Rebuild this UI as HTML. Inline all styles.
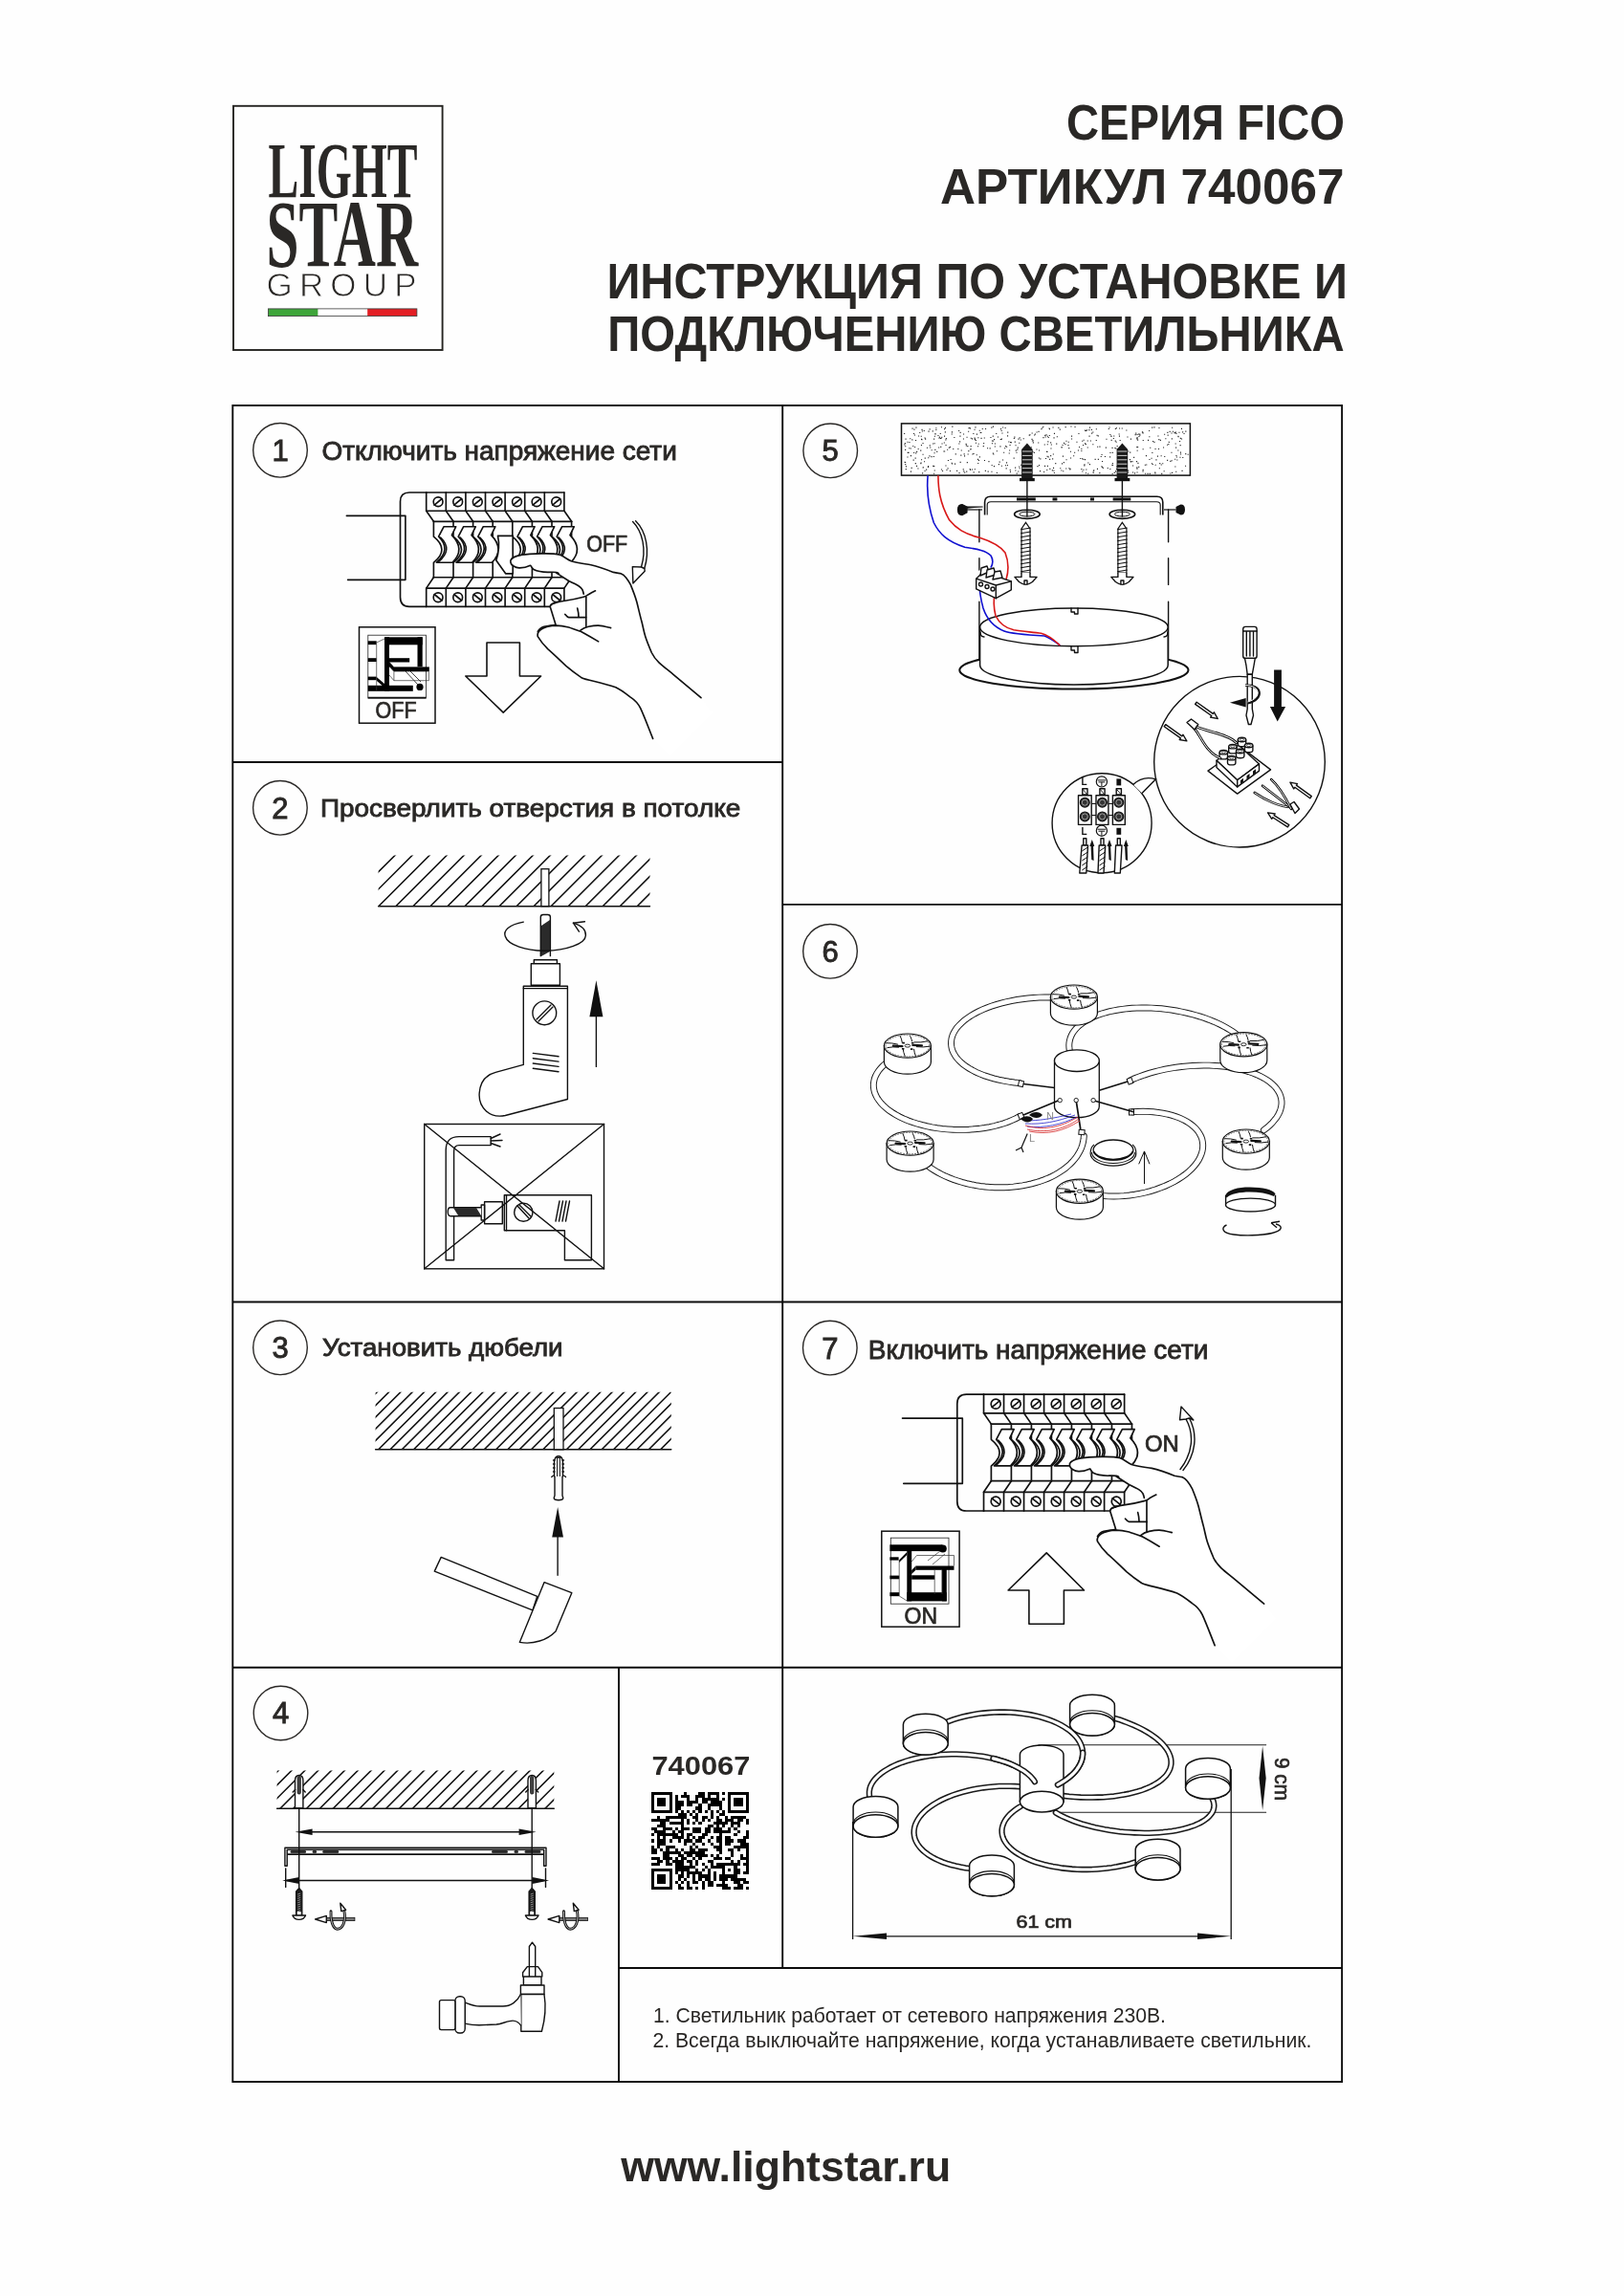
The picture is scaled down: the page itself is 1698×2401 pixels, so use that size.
<!DOCTYPE html>
<html><head><meta charset="utf-8">
<style>
html,body{margin:0;padding:0;background:#fff;}
body{width:1698px;height:2401px;overflow:hidden;position:relative;}
svg{position:absolute;left:0;top:0;will-change:transform;}
text{font-family:"Liberation Sans",sans-serif;}
.t{fill:#2a2826;}
.b{font-weight:bold;}
.ln{stroke:#0c0c0c;stroke-width:1.9;fill:none;}
.d{stroke:#111;stroke-width:1.4;fill:none;stroke-linejoin:round;stroke-linecap:round;}
.dw{stroke:#111;stroke-width:1.4;fill:#fff;stroke-linejoin:round;}
.f{fill:#111;stroke:none;}
.bk .d,.bk .dw{stroke-width:1.65;}
</style></head>
<body>
<svg width="1698" height="2401" viewBox="0 0 1698 2401">
<rect x="0" y="0" width="1698" height="2401" fill="#fefefe"/>

<!-- LOGO -->
<g id="logo">
<rect x="244" y="110.8" width="218.6" height="255.2" fill="none" stroke="#262522" stroke-width="1.9"/>
<text x="280.5" y="205.6" class="t" font-family="Liberation Serif" font-weight="bold" font-size="83" textLength="156" lengthAdjust="spacingAndGlyphs" style="font-family:'Liberation Serif',serif">LIGHT</text>
<text x="278.6" y="278.3" class="t" font-weight="bold" font-size="100" textLength="158.5" lengthAdjust="spacingAndGlyphs" style="font-family:'Liberation Serif',serif">STAR</text>
<text x="278.5" y="309.6" class="t" font-size="35" textLength="157" lengthAdjust="spacing" stroke="#fefefe" stroke-width="0.9" style="font-family:'Liberation Sans',sans-serif">GROUP</text>
<rect x="280.5" y="322.9" width="52.1" height="7.7" fill="#3ea53a"/>
<rect x="332.6" y="322.9" width="51.6" height="7.7" fill="#ffffff"/>
<rect x="384.2" y="322.9" width="51.7" height="7.7" fill="#e31e24"/>
<rect x="280.5" y="322.9" width="155.4" height="7.7" fill="none" stroke="#3a3a3a" stroke-width="0.8"/>
</g>

<!-- TITLES -->
<text x="1115" y="146.3" class="t b" font-size="51" textLength="291" lengthAdjust="spacingAndGlyphs">СЕРИЯ FICO</text>
<text x="983" y="213.4" class="t b" font-size="51" textLength="422.5" lengthAdjust="spacingAndGlyphs">АРТИКУЛ 740067</text>
<text x="634.4" y="312" class="t b" font-size="51" textLength="774.5" lengthAdjust="spacingAndGlyphs">ИНСТРУКЦИЯ ПО УСТАНОВКЕ И</text>
<text x="635.3" y="366.9" class="t b" font-size="51" textLength="770.5" lengthAdjust="spacingAndGlyphs">ПОДКЛЮЧЕНИЮ СВЕТИЛЬНИКА</text>

<!-- GRID -->
<g class="ln">
<rect x="243.3" y="424" width="1159.8" height="1753"/>
<line x1="818.2" y1="424" x2="818.2" y2="2058"/>
<line x1="647" y1="1743.7" x2="647" y2="2177"/>
<line x1="243.3" y1="797" x2="818.2" y2="797"/>
<line x1="818.2" y1="945.9" x2="1403.1" y2="945.9"/>
<line x1="243.3" y1="1361.5" x2="1403.1" y2="1361.5"/>
<line x1="243.3" y1="1743.7" x2="1403.1" y2="1743.7"/>
<line x1="647" y1="2058" x2="1403.1" y2="2058"/>
</g>

<!-- STEP CIRCLES -->
<g fill="none" stroke="#2a2826" stroke-width="1.4">
<circle cx="293" cy="470.8" r="28.3"/>
<circle cx="292.9" cy="844.8" r="28.3"/>
<circle cx="293" cy="1409.3" r="28.3"/>
<circle cx="293.5" cy="1791.5" r="28.3"/>
<circle cx="868.2" cy="471.3" r="28.3"/>
<circle cx="868" cy="994.8" r="28.3"/>
<circle cx="867.8" cy="1409.6" r="28.3"/>
</g>
<g class="t" font-size="31" text-anchor="middle" stroke="#2a2826" stroke-width="0.9">
<text x="293" y="481.7">1</text>
<text x="292.9" y="855.6">2</text>
<text x="293" y="1420.2">3</text>
<text x="293.5" y="1802.3">4</text>
<text x="868.2" y="482.3">5</text>
<text x="868" y="1005.5">6</text>
<text x="867.8" y="1420.5">7</text>
</g>

<!-- STEP HEADINGS -->
<g class="t" stroke="#2a2826" stroke-width="0.85">
<text x="336.4" y="481.3" font-size="26.8" textLength="371.4" lengthAdjust="spacingAndGlyphs">Отключить напряжение сети</text>
<text x="335" y="854.2" font-size="25.9" textLength="439.2" lengthAdjust="spacingAndGlyphs">Просверлить отверстия в потолке</text>
<text x="337" y="1418.4" font-size="25.9" textLength="251.6" lengthAdjust="spacingAndGlyphs">Установить дюбели</text>
<text x="907.8" y="1420.5" font-size="27.4" textLength="355.6" lengthAdjust="spacingAndGlyphs">Включить напряжение сети</text>
</g>

<!-- NOTES -->
<g class="t" font-size="22">
<text x="682.9" y="2115.4" textLength="536.1" lengthAdjust="spacingAndGlyphs">1. Светильник работает от сетевого напряжения 230В.</text>
<text x="682.4" y="2141" textLength="689" lengthAdjust="spacingAndGlyphs">2. Всегда выключайте напряжение, когда устанавливаете светильник.</text>
</g>

<!-- QR label -->
<text x="681.4" y="1855.9" class="t b" font-size="28" textLength="103" lengthAdjust="spacingAndGlyphs">740067</text>

<!-- FOOTER -->
<text x="649.3" y="2280.5" class="t b" font-size="44" textLength="344.8" lengthAdjust="spacingAndGlyphs">www.lightstar.ru</text>

<g id="brk1" class="bk">
<path class="d" d="M362.4,539.4 H423.9 V606.3 H363.6"/>
<path class="d" d="M445.7,515.0 H428 Q418.5,515.0 418.5,524.5 V624.5 Q418.5,634.4 428,634.4 H445.7"/>
<path class="d" d="M445.7,515.0 H589.9 M445.7,534.2 H589.9"/>
<path class="d" d="M445.7,515.0 V534.2 L453.4,545.3"/>
<path class="d" d="M453.4,603.7 L445.7,615.1 V634.4"/>
<path class="d" d="M466.3,515.0 V534.2 L474.0,545.3"/>
<path class="d" d="M474.0,603.7 L466.3,615.1 V634.4"/>
<path class="d" d="M486.9,515.0 V534.2 L494.6,545.3"/>
<path class="d" d="M494.6,603.7 L486.9,615.1 V634.4"/>
<path class="d" d="M507.5,515.0 V534.2 L515.2,545.3"/>
<path class="d" d="M515.2,603.7 L507.5,615.1 V634.4"/>
<path class="d" d="M528.1,515.0 V534.2 L535.8,545.3"/>
<path class="d" d="M535.8,603.7 L528.1,615.1 V634.4"/>
<path class="d" d="M548.7,515.0 V534.2 L556.4,545.3"/>
<path class="d" d="M556.4,603.7 L548.7,615.1 V634.4"/>
<path class="d" d="M569.3,515.0 V534.2 L577.0,545.3"/>
<path class="d" d="M577.0,603.7 L569.3,615.1 V634.4"/>
<path class="d" d="M589.9,515.0 V534.2 L597.6,545.3"/>
<path class="d" d="M597.6,603.7 L589.9,615.1 V634.4"/>
<path class="d" d="M453.4,545.3 H597.6 M453.4,603.7 H597.6"/>
<path class="d" d="M445.7,615.1 H589.9 M445.7,634.4 H589.9"/>
<circle class="d" cx="458.1" cy="524.8" r="4.9"/>
<path class="d" d="M454.1,528.1 L462.1,521.5"/>
<circle class="d" cx="458.1" cy="624.8" r="4.9"/>
<path class="d" d="M454.1,621.5 L462.1,628.0"/>
<circle class="d" cx="478.7" cy="524.8" r="4.9"/>
<path class="d" d="M474.7,528.1 L482.7,521.5"/>
<circle class="d" cx="478.7" cy="624.8" r="4.9"/>
<path class="d" d="M474.7,621.5 L482.7,628.0"/>
<circle class="d" cx="499.3" cy="524.8" r="4.9"/>
<path class="d" d="M495.3,528.1 L503.3,521.5"/>
<circle class="d" cx="499.3" cy="624.8" r="4.9"/>
<path class="d" d="M495.3,621.5 L503.3,628.0"/>
<circle class="d" cx="519.9" cy="524.8" r="4.9"/>
<path class="d" d="M515.9,528.1 L523.9,521.5"/>
<circle class="d" cx="519.9" cy="624.8" r="4.9"/>
<path class="d" d="M515.9,621.5 L523.9,628.0"/>
<circle class="d" cx="540.5" cy="524.8" r="4.9"/>
<path class="d" d="M536.5,528.1 L544.5,521.5"/>
<circle class="d" cx="540.5" cy="624.8" r="4.9"/>
<path class="d" d="M536.5,621.5 L544.5,628.0"/>
<circle class="d" cx="561.1" cy="524.8" r="4.9"/>
<path class="d" d="M557.1,528.1 L565.1,521.5"/>
<circle class="d" cx="561.1" cy="624.8" r="4.9"/>
<path class="d" d="M557.1,621.5 L565.1,628.0"/>
<circle class="d" cx="581.7" cy="524.8" r="4.9"/>
<path class="d" d="M577.7,528.1 L585.7,521.5"/>
<circle class="d" cx="581.7" cy="624.8" r="4.9"/>
<path class="d" d="M577.7,621.5 L585.7,628.0"/>
<path class="d" d="M453.4,545.3 V561.2 Q470.4,574.8 453.4,588.4 V603.7"/>
<path class="d" d="M474.0,545.3 V561.2 Q491.0,574.8 474.0,588.4 V603.7"/>
<path class="d" d="M494.6,545.3 V561.2 Q511.6,574.8 494.6,588.4 V603.7"/>
<path class="d" d="M515.2,545.3 V603.7"/>
<path class="d" d="M535.8,545.3 V561.2 Q552.8,574.8 535.8,588.4 V603.7"/>
<path class="d" d="M556.4,545.3 V561.2 Q573.4,574.8 556.4,588.4 V603.7"/>
<path class="d" d="M577.0,545.3 V561.2 Q594.0,574.8 577.0,588.4 V603.7"/>
<path class="d" d="M597.6,545.3 V603.7"/>
<path class="dw" d="M464.1,550.7 H476.7 L472.4,559.7 Q486.9,574.5 473.2,588.2 H456.4 Q472.4,574.5 458.6,561.2 Z"/>
<path class="d" d="M460.6,562 Q473.9,574.8 458.4,587.6"/>
<path class="dw" d="M484.7,550.7 H497.3 L493.0,559.7 Q507.5,574.5 493.8,588.2 H477.0 Q493.0,574.5 479.2,561.2 Z"/>
<path class="d" d="M481.2,562 Q494.5,574.8 479.0,587.6"/>
<path class="dw" d="M505.3,550.7 H517.9 L513.6,559.7 Q528.1,574.5 514.4,588.2 H497.6 Q513.6,574.5 499.8,561.2 Z"/>
<path class="d" d="M501.8,562 Q515.1,574.8 499.6,587.6"/>
<path class="dw" d="M520.5,560.4 H536.2 V599.8 H528.6 L518.8,586 Q523.2,573 520.5,560.4 Z"/>
<path class="dw" d="M546.5,550.7 H559.1 L554.8,559.7 Q569.3,574.5 555.6,588.2 H538.8 Q554.8,574.5 541.0,561.2 Z"/>
<path class="d" d="M543.0,562 Q556.3,574.8 540.8,587.6"/>
<path class="dw" d="M567.1,550.7 H579.7 L575.4,559.7 Q589.9,574.5 576.2,588.2 H559.4 Q575.4,574.5 561.6,561.2 Z"/>
<path class="d" d="M563.6,562 Q576.9,574.8 561.4,587.6"/>
<path class="dw" d="M587.7,550.7 H600.3 L596.0,559.7 Q610.5,574.5 596.8,588.2 H580.0 Q596.0,574.5 582.2,561.2 Z"/>
<path class="d" d="M584.2,562 Q597.5,574.8 582.0,587.6"/>
</g>
<g id="hand1" class="bk"><path d="M733,729.7 L704.6,705.8 C699,701 694,697.5 689,692.8 C686,690 683.5,687 681.3,682.5 C679,677 676.5,671 674.8,665.7 C673,660 672.5,656 671,650.2 C669,643 667.5,636 665.8,629.5 C664,623 662,618 659.3,611.4 C657.5,608 656,606 654.1,603.6 C653,602 652,601 649,599.7 C647,599.2 645,599.5 641.2,598.4 C634,595.5 626,592.5 617.9,590.7 C611,589.5 604,589 597.2,586.8 C593,585 590,582 585.6,580.3 C579,578.6 573,578.8 567,578.9 C560,579.1 552,579.3 545.5,580.3 C540,581.5 535,582.5 533.9,586 L533.9,588.1 C534,591 539,593.5 542.9,593.9 C547,594 551,593 554.6,591.3 C555.5,592 556,594 558,595.5 C562,597.5 566,598.2 572.7,598.4 C575,598.4 582,597.6 584,599.5 L600,612 L610.2,624.3 L581,630.3 L575.3,634.7 L581.1,653.4 C575,654.5 569.5,655.7 566,658 C563,660 561.5,662.5 562.3,665.7 C564.5,669.5 568,674 572.7,678.6 C579,684 585,690 592.1,696.7 C596,700 601,704 607.6,708.4 C611,710 615,711 620.5,712.2 C628,714 636,716 643.8,718.7 C649,721 654,725 659.3,729.1 C663,731.5 667,735 669.7,740.7 C674,750 678,761 682.6,772.4 L700,790 L745,745 Z" fill="#fff" stroke="none"/>
<path class="d" d="M733,729.7 L704.6,705.8 C699,701 694,697.5 689,692.8 C686,690 683.5,687 681.3,682.5 C679,677 676.5,671 674.8,665.7 C673,660 672.5,656 671,650.2 C669,643 667.5,636 665.8,629.5 C664,623 662,618 659.3,611.4 C657.5,608 656,606 654.1,603.6 C653,602 652,601 649,599.7 C647,599.2 645,599.5 641.2,598.4 C634,595.5 626,592.5 617.9,590.7 C611,589.5 604,589 597.2,586.8 C593,585 590,582 585.6,580.3 C579,578.6 573,578.8 567,578.9 C560,579.1 552,579.3 545.5,580.3 C540,581.5 535,582.5 533.9,586 L533.9,588.1 C534,591 539,593.5 542.9,593.9 C547,594 551,593 554.6,591.3 C555.5,592 556,594 558,595.5 C562,597.5 566,598.2 572.7,598.4 C575,598.4 582,597.6 584,599.5"/>
<path class="d" d="M682.6,772.4 C678,761 674,750 669.7,740.7 C667,735 663,731.5 659.3,729.1 C654,725 649,721 643.8,718.7 C636,716 628,714 620.5,712.2 C615,711 611,710 607.6,708.4 C601,704 596,700 592.1,696.7 C585,690 579,684 572.7,678.6 C568,674 564.5,669.5 562.3,665.7 C561.5,662.5 563,660 566,658 C569.5,655.7 575,654.5 581.1,653.4 L575.3,634.7 C575,632 577,631 581,630.3"/>
<path class="d" d="M581.7,599.1 L594.7,607.5 C600,610 603,611.5 605,612.7 C607,614 608,615 608.9,616.6 C609.5,618 610,619.5 610.2,621.1"/>
<path class="d" d="M576.6,632.1 C580,630 585,629 590.8,628.2 C597,627.3 604,626 610.2,624.3 C613,623.5 614,622.8 615.3,621.7 C618,620 620,619 622.5,617.8"/>
<path class="d" d="M612.8,624.3 V655.3"/>
<path class="d" d="M590.8,642.4 C592,644 593,645.6 594.7,645.6 H612.8"/>
<path class="d" d="M603.7,636 C604.5,639 605,642 605,645"/>
<path class="d" d="M606.9,659.2 C609,657.5 612,656 615.3,655.3 C619,654.5 622,654 625.7,654.1 C630,654.3 634,655.5 638.6,656.6"/>
<path class="d" d="M562.3,660.5 C564,657.5 566,656 568.8,655.3 C573,654.3 577,654.1 581.7,654.1 C586,654.3 590,655 594.7,656 C599,657.5 603,659 607.6,660.5 C614,664 620,667.5 625.7,670.9"/>
</g>
<text x="613.2" y="577" class="t" stroke="#2a2826" stroke-width="0.7" font-size="23" textLength="43" lengthAdjust="spacingAndGlyphs">OFF</text>
<path class="d" d="M661.6,545.6 C672,556 676,575 670.5,593 M664.6,544.8 C676,556 679.5,576 673.8,594.5"/>
<path class="dw" d="M661.3,592.6 L670.5,593 L673.8,594.5 L674.2,597.2 L661.9,610.1 Z"/>
<path class="d" style="stroke-width:1.6" d="M509,672 H543.4 V707 H565.6 L526.2,745.1 L486.8,707 H509 Z"/>
<rect x="375.5" y="655.8" width="79.5" height="100.4" fill="none" stroke="#111" stroke-width="1.5"/>
<rect x="384.8" y="664.2" width="60.6" height="65.8" fill="none" stroke="#222" stroke-width="0.8"/>
<path d="M384.8,729.6 H445.4" stroke="#111" stroke-width="1.6"/>
<rect x="384.8" y="670.3" width="8.9" height="3.8" fill="#000"/>
<rect x="384.8" y="688.2" width="8.9" height="3.8" fill="#000"/>
<rect x="384.8" y="707.6" width="8.9" height="3.6" fill="#000"/>
<rect x="384.8" y="716.8" width="47.0" height="6.0" fill="#000"/>
<rect x="402.0" y="666.3" width="5.0" height="56.4" fill="#000"/>
<rect x="402.0" y="666.3" width="39.7" height="8.0" fill="#000"/>
<rect x="436.5" y="666.3" width="5.2" height="31.0" fill="#000"/>
<rect x="407.0" y="688.2" width="21.2" height="4.3" fill="#000"/>
<rect x="411.9" y="697.4" width="36.9" height="4.9" fill="#000"/>
<path d="M407,692 L412,697.4 L412,702.3 L407,697 Z" fill="#000"/>
<path d="M393.7,708 L402,715 L402,719 L394,712 Z" fill="#000"/>
<circle cx="439" cy="718.4" r="3.6" fill="#000"/>
<path d="M424,702 L437,716 M428,701 L440,713" stroke="#111" stroke-width="0.8" fill="none"/>
<path d="M411.9,702.3 V711.7 H448.4 V702.3 M407,697 L411.9,702.3 M407,706 L411.9,711.7 M393.7,674 V722 M393.7,672 L402,668" stroke="#333" stroke-width="0.7" fill="none"/>
<text x="392.6" y="751.3" class="t" stroke="#2a2826" stroke-width="0.7" font-size="23" textLength="43" lengthAdjust="spacingAndGlyphs">OFF</text>
<g transform="translate(573.92,932.9) scale(1.02)" class="bk">
<path class="d" d="M362.4,539.4 H423.9 V606.3 H363.6"/>
<path class="d" d="M445.7,515.0 H428 Q418.5,515.0 418.5,524.5 V624.5 Q418.5,634.4 428,634.4 H445.7"/>
<path class="d" d="M445.7,515.0 H589.9 M445.7,534.2 H589.9"/>
<path class="d" d="M445.7,515.0 V534.2 L453.4,545.3"/>
<path class="d" d="M453.4,603.7 L445.7,615.1 V634.4"/>
<path class="d" d="M466.3,515.0 V534.2 L474.0,545.3"/>
<path class="d" d="M474.0,603.7 L466.3,615.1 V634.4"/>
<path class="d" d="M486.9,515.0 V534.2 L494.6,545.3"/>
<path class="d" d="M494.6,603.7 L486.9,615.1 V634.4"/>
<path class="d" d="M507.5,515.0 V534.2 L515.2,545.3"/>
<path class="d" d="M515.2,603.7 L507.5,615.1 V634.4"/>
<path class="d" d="M528.1,515.0 V534.2 L535.8,545.3"/>
<path class="d" d="M535.8,603.7 L528.1,615.1 V634.4"/>
<path class="d" d="M548.7,515.0 V534.2 L556.4,545.3"/>
<path class="d" d="M556.4,603.7 L548.7,615.1 V634.4"/>
<path class="d" d="M569.3,515.0 V534.2 L577.0,545.3"/>
<path class="d" d="M577.0,603.7 L569.3,615.1 V634.4"/>
<path class="d" d="M589.9,515.0 V534.2 L597.6,545.3"/>
<path class="d" d="M597.6,603.7 L589.9,615.1 V634.4"/>
<path class="d" d="M453.4,545.3 H597.6 M453.4,603.7 H597.6"/>
<path class="d" d="M445.7,615.1 H589.9 M445.7,634.4 H589.9"/>
<circle class="d" cx="458.1" cy="524.8" r="4.9"/>
<path class="d" d="M454.1,528.1 L462.1,521.5"/>
<circle class="d" cx="458.1" cy="624.8" r="4.9"/>
<path class="d" d="M454.1,621.5 L462.1,628.0"/>
<circle class="d" cx="478.7" cy="524.8" r="4.9"/>
<path class="d" d="M474.7,528.1 L482.7,521.5"/>
<circle class="d" cx="478.7" cy="624.8" r="4.9"/>
<path class="d" d="M474.7,621.5 L482.7,628.0"/>
<circle class="d" cx="499.3" cy="524.8" r="4.9"/>
<path class="d" d="M495.3,528.1 L503.3,521.5"/>
<circle class="d" cx="499.3" cy="624.8" r="4.9"/>
<path class="d" d="M495.3,621.5 L503.3,628.0"/>
<circle class="d" cx="519.9" cy="524.8" r="4.9"/>
<path class="d" d="M515.9,528.1 L523.9,521.5"/>
<circle class="d" cx="519.9" cy="624.8" r="4.9"/>
<path class="d" d="M515.9,621.5 L523.9,628.0"/>
<circle class="d" cx="540.5" cy="524.8" r="4.9"/>
<path class="d" d="M536.5,528.1 L544.5,521.5"/>
<circle class="d" cx="540.5" cy="624.8" r="4.9"/>
<path class="d" d="M536.5,621.5 L544.5,628.0"/>
<circle class="d" cx="561.1" cy="524.8" r="4.9"/>
<path class="d" d="M557.1,528.1 L565.1,521.5"/>
<circle class="d" cx="561.1" cy="624.8" r="4.9"/>
<path class="d" d="M557.1,621.5 L565.1,628.0"/>
<circle class="d" cx="581.7" cy="524.8" r="4.9"/>
<path class="d" d="M577.7,528.1 L585.7,521.5"/>
<circle class="d" cx="581.7" cy="624.8" r="4.9"/>
<path class="d" d="M577.7,621.5 L585.7,628.0"/>
<path class="d" d="M453.4,545.3 V561.2 Q470.4,574.8 453.4,588.4 V603.7"/>
<path class="d" d="M474.0,545.3 V561.2 Q491.0,574.8 474.0,588.4 V603.7"/>
<path class="d" d="M494.6,545.3 V561.2 Q511.6,574.8 494.6,588.4 V603.7"/>
<path class="d" d="M515.2,545.3 V561.2 Q532.2,574.8 515.2,588.4 V603.7"/>
<path class="d" d="M535.8,545.3 V561.2 Q552.8,574.8 535.8,588.4 V603.7"/>
<path class="d" d="M556.4,545.3 V561.2 Q573.4,574.8 556.4,588.4 V603.7"/>
<path class="d" d="M577.0,545.3 V561.2 Q594.0,574.8 577.0,588.4 V603.7"/>
<path class="d" d="M597.6,545.3 V603.7"/>
<path class="dw" d="M464.1,550.7 H476.7 L472.4,559.7 Q486.9,574.5 473.2,588.2 H456.4 Q472.4,574.5 458.6,561.2 Z"/>
<path class="d" d="M460.6,562 Q473.9,574.8 458.4,587.6"/>
<path class="dw" d="M484.7,550.7 H497.3 L493.0,559.7 Q507.5,574.5 493.8,588.2 H477.0 Q493.0,574.5 479.2,561.2 Z"/>
<path class="d" d="M481.2,562 Q494.5,574.8 479.0,587.6"/>
<path class="dw" d="M505.3,550.7 H517.9 L513.6,559.7 Q528.1,574.5 514.4,588.2 H497.6 Q513.6,574.5 499.8,561.2 Z"/>
<path class="d" d="M501.8,562 Q515.1,574.8 499.6,587.6"/>
<path class="dw" d="M525.9,550.7 H538.5 L534.2,559.7 Q548.7,574.5 535.0,588.2 H518.2 Q534.2,574.5 520.4,561.2 Z"/>
<path class="d" d="M522.4,562 Q535.7,574.8 520.2,587.6"/>
<path class="dw" d="M546.5,550.7 H559.1 L554.8,559.7 Q569.3,574.5 555.6,588.2 H538.8 Q554.8,574.5 541.0,561.2 Z"/>
<path class="d" d="M543.0,562 Q556.3,574.8 540.8,587.6"/>
<path class="dw" d="M567.1,550.7 H579.7 L575.4,559.7 Q589.9,574.5 576.2,588.2 H559.4 Q575.4,574.5 561.6,561.2 Z"/>
<path class="d" d="M563.6,562 Q576.9,574.8 561.4,587.6"/>
<path class="dw" d="M587.7,550.7 H600.3 L596.0,559.7 Q610.5,574.5 596.8,588.2 H580.0 Q596.0,574.5 582.2,561.2 Z"/>
<path class="d" d="M584.2,562 Q597.5,574.8 582.0,587.6"/>
<path d="M733,729.7 L704.6,705.8 C699,701 694,697.5 689,692.8 C686,690 683.5,687 681.3,682.5 C679,677 676.5,671 674.8,665.7 C673,660 672.5,656 671,650.2 C669,643 667.5,636 665.8,629.5 C664,623 662,618 659.3,611.4 C657.5,608 656,606 654.1,603.6 C653,602 652,601 649,599.7 C647,599.2 645,599.5 641.2,598.4 C634,595.5 626,592.5 617.9,590.7 C611,589.5 604,589 597.2,586.8 C593,585 590,582 585.6,580.3 C579,578.6 573,578.8 567,578.9 C560,579.1 552,579.3 545.5,580.3 C540,581.5 535,582.5 533.9,586 L533.9,588.1 C534,591 539,593.5 542.9,593.9 C547,594 551,593 554.6,591.3 C555.5,592 556,594 558,595.5 C562,597.5 566,598.2 572.7,598.4 C575,598.4 582,597.6 584,599.5 L600,612 L610.2,624.3 L581,630.3 L575.3,634.7 L581.1,653.4 C575,654.5 569.5,655.7 566,658 C563,660 561.5,662.5 562.3,665.7 C564.5,669.5 568,674 572.7,678.6 C579,684 585,690 592.1,696.7 C596,700 601,704 607.6,708.4 C611,710 615,711 620.5,712.2 C628,714 636,716 643.8,718.7 C649,721 654,725 659.3,729.1 C663,731.5 667,735 669.7,740.7 C674,750 678,761 682.6,772.4 L700,790 L745,745 Z" fill="#fff" stroke="none"/>
<path class="d" d="M733,729.7 L704.6,705.8 C699,701 694,697.5 689,692.8 C686,690 683.5,687 681.3,682.5 C679,677 676.5,671 674.8,665.7 C673,660 672.5,656 671,650.2 C669,643 667.5,636 665.8,629.5 C664,623 662,618 659.3,611.4 C657.5,608 656,606 654.1,603.6 C653,602 652,601 649,599.7 C647,599.2 645,599.5 641.2,598.4 C634,595.5 626,592.5 617.9,590.7 C611,589.5 604,589 597.2,586.8 C593,585 590,582 585.6,580.3 C579,578.6 573,578.8 567,578.9 C560,579.1 552,579.3 545.5,580.3 C540,581.5 535,582.5 533.9,586 L533.9,588.1 C534,591 539,593.5 542.9,593.9 C547,594 551,593 554.6,591.3 C555.5,592 556,594 558,595.5 C562,597.5 566,598.2 572.7,598.4 C575,598.4 582,597.6 584,599.5"/>
<path class="d" d="M682.6,772.4 C678,761 674,750 669.7,740.7 C667,735 663,731.5 659.3,729.1 C654,725 649,721 643.8,718.7 C636,716 628,714 620.5,712.2 C615,711 611,710 607.6,708.4 C601,704 596,700 592.1,696.7 C585,690 579,684 572.7,678.6 C568,674 564.5,669.5 562.3,665.7 C561.5,662.5 563,660 566,658 C569.5,655.7 575,654.5 581.1,653.4 L575.3,634.7 C575,632 577,631 581,630.3"/>
<path class="d" d="M581.7,599.1 L594.7,607.5 C600,610 603,611.5 605,612.7 C607,614 608,615 608.9,616.6 C609.5,618 610,619.5 610.2,621.1"/>
<path class="d" d="M576.6,632.1 C580,630 585,629 590.8,628.2 C597,627.3 604,626 610.2,624.3 C613,623.5 614,622.8 615.3,621.7 C618,620 620,619 622.5,617.8"/>
<path class="d" d="M612.8,624.3 V655.3"/>
<path class="d" d="M590.8,642.4 C592,644 593,645.6 594.7,645.6 H612.8"/>
<path class="d" d="M603.7,636 C604.5,639 605,642 605,645"/>
<path class="d" d="M606.9,659.2 C609,657.5 612,656 615.3,655.3 C619,654.5 622,654 625.7,654.1 C630,654.3 634,655.5 638.6,656.6"/>
<path class="d" d="M562.3,660.5 C564,657.5 566,656 568.8,655.3 C573,654.3 577,654.1 581.7,654.1 C586,654.3 590,655 594.7,656 C599,657.5 603,659 607.6,660.5 C614,664 620,667.5 625.7,670.9"/>

</g>
<text x="1197" y="1517.6" class="t" stroke="#2a2826" stroke-width="0.7" font-size="23" textLength="35.8" lengthAdjust="spacingAndGlyphs">ON</text>
<path class="d" d="M1234,1536.5 C1247,1520 1249,1500 1240,1484 M1237,1537.5 C1250.5,1521 1252.5,1500 1243.5,1483"/>
<path class="dw" d="M1233.5,1484.8 L1240,1484 L1243.5,1483 L1247.9,1485 L1235,1470.9 Z"/>
<path class="d" style="stroke-width:1.6" d="M1094.2,1623.9 L1133.5,1663 H1112.4 V1698.2 H1075.9 V1663 H1054.1 Z"/>
<rect x="921.8" y="1601.2" width="81.3" height="100" fill="none" stroke="#111" stroke-width="1.5"/>
<rect x="931.3" y="1608.2" width="60.7" height="69" fill="none" stroke="#222" stroke-width="0.8"/>
<rect x="930.4" y="1615.3" width="55.0" height="6.8" fill="#000"/>
<rect x="948.3" y="1619.6" width="4.9" height="54.8" fill="#000"/>
<rect x="948.3" y="1665.2" width="41.5" height="9.2" fill="#000"/>
<rect x="984.9" y="1638.1" width="4.9" height="36.3" fill="#000"/>
<rect x="957.5" y="1637.5" width="40.0" height="4.3" fill="#000"/>
<rect x="953.2" y="1647.3" width="24.0" height="4.4" fill="#000"/>
<rect x="930.4" y="1628.3" width="9.2" height="3.3" fill="#000"/>
<rect x="930.4" y="1647.6" width="9.8" height="3.7" fill="#000"/>
<rect x="930.4" y="1665.2" width="9.8" height="4.0" fill="#000"/>
<circle cx="985.8" cy="1619.6" r="4" fill="#000"/>
<path d="M953.2,1642 L957.5,1637.5 L957.5,1641.8 L953.2,1646 Z" fill="#000"/>
<path d="M940,1631.6 L948.3,1623 L948.3,1626 L940,1634 Z" fill="#000"/>
<path d="M970,1632 L983,1622 M975,1636 L988,1625 M953.2,1633 L958.5,1626.5 H997.5 V1637.5 M940.2,1631 V1669 M940.2,1669 L948.3,1674 M977.2,1641.8 V1667 M984.9,1641.8 V1667" stroke="#333" stroke-width="0.7" fill="none"/>
<text x="945.5" y="1698.1" class="t" stroke="#2a2826" stroke-width="0.7" font-size="23" textLength="34.5" lengthAdjust="spacingAndGlyphs">ON</text>
<clipPath id="c2"><rect x="395.6" y="894.4" width="283.9" height="53.3"/></clipPath>
<path clip-path="url(#c2)" d="M357.76,949.70 L415.06,892.40 M375.79,949.70 L433.09,892.40 M393.82,949.70 L451.12,892.40 M411.85,949.70 L469.15,892.40 M429.88,949.70 L487.18,892.40 M447.91,949.70 L505.21,892.40 M465.94,949.70 L523.24,892.40 M483.97,949.70 L541.27,892.40 M502.00,949.70 L559.30,892.40 M520.03,949.70 L577.33,892.40 M538.06,949.70 L595.36,892.40 M556.09,949.70 L613.39,892.40 M574.12,949.70 L631.42,892.40 M592.15,949.70 L649.45,892.40 M610.18,949.70 L667.48,892.40 M628.21,949.70 L685.51,892.40 M646.24,949.70 L703.54,892.40 M664.27,949.70 L721.57,892.40" stroke="#111" stroke-width="1.55" fill="none"/>
<path class="d" d="M395.6,947.7 H679.5"/>
<rect x="565.9" y="908.7" width="8" height="39" fill="#fff" stroke="#111" stroke-width="1.3"/>
<path class="dw" d="M565.3,1000.2 V959 Q565.3,956.5 568,956.5 H572.7 Q575.4,956.5 575.4,959 V1000.2"/>
<path d="M566,968 L575,962 V995 L566,1000 Z" fill="#2a2a2a"/>
<path class="d" d="M547.3,964.1 C532,967 526,973 528.3,979.2 C531,988 550,994.5 570.3,994.2 C592,994 612,987 612.4,978.2 C612.6,972 607,967.5 599.4,965.2"/>
<path class="d" d="M599.4,965.2 L611.4,963.8 M599.4,965.2 L605.4,974.2"/>
<rect class="dw" x="558.3" y="1003.8" width="24.1" height="4"/>
<rect class="dw" x="555.3" y="1007.8" width="30.1" height="22.5"/>
<path class="dw" d="M547.3,1031.3 H593.4 V1149.5 L528.3,1166.5 C512,1170 500,1158 501.2,1143 C502,1132 508,1124 518.2,1121.4 L547.3,1113.4 Z"/>
<path class="d" d="M547.3,1033.6 H593.4"/>
<circle class="d" cx="569.3" cy="1059.3" r="12.4"/>
<path class="d" d="M561,1066 L576,1051 M563,1068 L578,1053"/>
<path class="d" d="M557.3,1101.4 L584,1104.8"/>
<path class="d" d="M557.3,1106.7 L584,1110.1"/>
<path class="d" d="M557.3,1112.0 L584,1115.4"/>
<path class="d" d="M557.3,1117.3 L584,1120.7"/>
<path class="d" d="M623.4,1115.4 V1060"/>
<path class="f" d="M623.4,1025.3 L630.4,1063.3 H616.4 Z"/>
<rect x="443.7" y="1175.5" width="187.8" height="151.3" fill="none" stroke="#111" stroke-width="1.4"/>
<path class="d" d="M443.7,1175.5 L631.5,1326.8 M631.5,1175.5 L443.7,1326.8"/>
<path class="d" d="M466.2,1317.8 V1202.6 Q466.2,1188.6 480,1188.6 H513.2 V1197.6 H480 Q474.6,1197.6 474.6,1204 V1317.8 Z"/>
<path class="d" d="M513.2,1190.5 L523,1186 M513.2,1193 L525,1192.5 M513.2,1195.5 L523,1199"/>
<path class="d" d="M527.3,1249.7 H618.4 V1317.8 H590.4 V1286.7 H527.3 Z"/>
<path class="d" d="M529.5,1249.7 V1286.7"/>
<rect class="d" x="506.6" y="1256.7" width="18.7" height="23"/>
<rect class="d" x="503.2" y="1260" width="3.4" height="16"/>
<path class="dw" d="M503.2,1262.7 H471 Q468.2,1262.7 468.2,1267.2 Q468.2,1271.7 471,1271.7 H503.2"/>
<path d="M474,1263 H498 L503,1271 H479 Z" fill="#2a2a2a"/>
<circle class="d" cx="547.3" cy="1267.7" r="9.6"/>
<path class="d" d="M541,1261 L553,1274 M543,1260 L555,1272"/>
<path class="d" d="M585.0,1256 L581.0,1277"/>
<path class="d" d="M588.5,1256 L584.5,1277"/>
<path class="d" d="M592.0,1256 L588.0,1277"/>
<path class="d" d="M595.5,1256 L591.5,1277"/>
<clipPath id="c3"><rect x="392.6" y="1455.7" width="309.2" height="60.1"/></clipPath>
<path clip-path="url(#c3)" d="M332.21,1517.80 L396.31,1453.70 M344.50,1517.80 L408.60,1453.70 M356.79,1517.80 L420.89,1453.70 M369.08,1517.80 L433.18,1453.70 M381.37,1517.80 L445.47,1453.70 M393.66,1517.80 L457.76,1453.70 M405.95,1517.80 L470.05,1453.70 M418.24,1517.80 L482.34,1453.70 M430.53,1517.80 L494.63,1453.70 M442.82,1517.80 L506.92,1453.70 M455.11,1517.80 L519.21,1453.70 M467.40,1517.80 L531.50,1453.70 M479.69,1517.80 L543.79,1453.70 M491.98,1517.80 L556.08,1453.70 M504.27,1517.80 L568.37,1453.70 M516.56,1517.80 L580.66,1453.70 M528.85,1517.80 L592.95,1453.70 M541.14,1517.80 L605.24,1453.70 M553.43,1517.80 L617.53,1453.70 M565.72,1517.80 L629.82,1453.70 M578.01,1517.80 L642.11,1453.70 M590.30,1517.80 L654.40,1453.70 M602.59,1517.80 L666.69,1453.70 M614.88,1517.80 L678.98,1453.70 M627.17,1517.80 L691.27,1453.70 M639.46,1517.80 L703.56,1453.70 M651.75,1517.80 L715.85,1453.70 M664.04,1517.80 L728.14,1453.70 M676.33,1517.80 L740.43,1453.70 M688.62,1517.80 L752.72,1453.70" stroke="#111" stroke-width="1.55" fill="none"/>
<path class="d" d="M392.6,1515.8 H701.8"/>
<rect x="579.3" y="1472.5" width="9.7" height="43.3" fill="#fff" stroke="#111" stroke-width="1.3"/>
<path class="dw" d="M579.5,1543 V1530 Q579.5,1523 584,1522.7 Q588.5,1523 588.5,1530 V1543"/>
<path class="d" d="M580,1527 h-1.5 M580,1531 h-1.5 M580,1535 h-1.5 M580,1539 h-1.5 M588,1527 h1.5 M588,1531 h1.5 M588,1535 h1.5 M588,1539 h1.5"/>
<rect x="582.6" y="1524.5" width="2.8" height="22" fill="#fff" stroke="#111" stroke-width="1"/>
<path class="d" d="M576.8,1544.5 Q579,1542 580,1544 M591.5,1544.5 Q589,1542 588,1544"/>
<path class="dw" d="M580,1544 V1564 Q578.5,1567 580,1568 Q584,1569.5 588,1568 Q589.5,1567 588,1564 V1544"/>
<path class="d" d="M583.1,1647.3 V1605"/>
<path class="f" d="M583.1,1576.1 L589,1607.5 H577.2 Z"/>
<path class="dw" d="M454.3,1643.1 L461.2,1628.4 L561.7,1669.3 L556.9,1683.9 Z"/>
<path class="dw" d="M569.1,1654.6 L597.8,1665.7 L581,1705.9 C572,1715 558,1720 543.3,1717.4 Z"/>
<clipPath id="c4"><rect x="289.6" y="1851.5" width="289.7" height="39.7"/></clipPath>
<path clip-path="url(#c4)" d="M249.35,1893.20 L293.05,1849.50 M263.20,1893.20 L306.90,1849.50 M277.05,1893.20 L320.75,1849.50 M290.90,1893.20 L334.60,1849.50 M304.75,1893.20 L348.45,1849.50 M318.60,1893.20 L362.30,1849.50 M332.45,1893.20 L376.15,1849.50 M346.30,1893.20 L390.00,1849.50 M360.15,1893.20 L403.85,1849.50 M374.00,1893.20 L417.70,1849.50 M387.85,1893.20 L431.55,1849.50 M401.70,1893.20 L445.40,1849.50 M415.55,1893.20 L459.25,1849.50 M429.40,1893.20 L473.10,1849.50 M443.25,1893.20 L486.95,1849.50 M457.10,1893.20 L500.80,1849.50 M470.95,1893.20 L514.65,1849.50 M484.80,1893.20 L528.50,1849.50 M498.65,1893.20 L542.35,1849.50 M512.50,1893.20 L556.20,1849.50 M526.35,1893.20 L570.05,1849.50 M540.20,1893.20 L583.90,1849.50 M554.05,1893.20 L597.75,1849.50 M567.90,1893.20 L611.60,1849.50" stroke="#111" stroke-width="1.55" fill="none"/>
<path class="d" d="M289.6,1891.2 H579.3"/>
<path class="dw" d="M308.5,1890.7 V1862 Q308.5,1856.5 312.7,1856.5 Q316.9,1856.5 316.9,1862 V1890.7 Z"/>
<rect x="311.1" y="1857.5" width="3.2" height="18.5" rx="1.2" fill="#444" stroke="#111" stroke-width="0.8"/>
<path class="d" d="M306.2,1874 L308.7,1871.5 M319.2,1874 L316.7,1871.5"/>
<path class="d" d="M312.7,1891.2 V1974.3"/>
<path d="M312.7,1974.3 L315.9,1978 V2003 H309.5 V1978 Z" fill="#1a1a1a" stroke="#111" stroke-width="1.1"/>
<path d="M311.2,1981.0 L314.2,1980.0 M311.2,1983.2 L314.2,1982.2 M311.2,1985.4 L314.2,1984.4 M311.2,1987.6 L314.2,1986.6 M311.2,1989.8 L314.2,1988.8 M311.2,1992.0 L314.2,1991.0 M311.2,1994.2 L314.2,1993.2 M311.2,1996.4 L314.2,1995.4 M311.2,1998.6 L314.2,1997.6" stroke="#fff" stroke-width="0.5" fill="none"/>
<rect x="310.7" y="1999" width="4" height="3.5" fill="#fff"/>
<path class="dw" d="M305.9,2003 Q307.7,2007.4 312.7,2007.4 Q317.7,2007.4 319.5,2003 Z" stroke-width="1.6"/>
<rect x="339.2" y="2005.3" width="31.7" height="3.3" fill="#777" stroke="#111" stroke-width="0.8"/>
<path class="dw" d="M329.6,2007 L341.3,2003.4 V2010.6 Z" stroke-width="1.1"/>
<path d="M346.0,1998.8 C345.3,2008 348.3,2017.2 352.7,2017.2 C358.3,2017.2 362.1,2009 359.8,1998" fill="none" stroke="#111" stroke-width="2.9" stroke-linecap="round"/>
<path d="M346.0,1998.8 C345.3,2008 348.3,2017.2 352.7,2017.2 C358.3,2017.2 362.1,2009 359.8,1998" fill="none" stroke="#fff" stroke-width="0.7"/>
<path class="dw" d="M355.8,1990.2 L361.6,1997.3 L356.8,1998.6 Z" stroke-width="1.1"/>
<path class="dw" d="M552.0,1890.7 V1862 Q552.0,1856.5 556.2,1856.5 Q560.4,1856.5 560.4,1862 V1890.7 Z"/>
<rect x="554.6" y="1857.5" width="3.2" height="18.5" rx="1.2" fill="#444" stroke="#111" stroke-width="0.8"/>
<path class="d" d="M549.7,1874 L552.2,1871.5 M562.7,1874 L560.2,1871.5"/>
<path class="d" d="M556.2,1891.2 V1974.3"/>
<path d="M556.2,1974.3 L559.4,1978 V2003 H553.0 V1978 Z" fill="#1a1a1a" stroke="#111" stroke-width="1.1"/>
<path d="M554.7,1981.0 L557.7,1980.0 M554.7,1983.2 L557.7,1982.2 M554.7,1985.4 L557.7,1984.4 M554.7,1987.6 L557.7,1986.6 M554.7,1989.8 L557.7,1988.8 M554.7,1992.0 L557.7,1991.0 M554.7,1994.2 L557.7,1993.2 M554.7,1996.4 L557.7,1995.4 M554.7,1998.6 L557.7,1997.6" stroke="#fff" stroke-width="0.5" fill="none"/>
<rect x="554.2" y="1999" width="4" height="3.5" fill="#fff"/>
<path class="dw" d="M549.4,2003 Q551.2,2007.4 556.2,2007.4 Q561.2,2007.4 563.0,2003 Z" stroke-width="1.6"/>
<rect x="582.7" y="2005.3" width="31.7" height="3.3" fill="#777" stroke="#111" stroke-width="0.8"/>
<path class="dw" d="M573.1,2007 L584.8,2003.4 V2010.6 Z" stroke-width="1.1"/>
<path d="M589.5,1998.8 C588.8,2008 591.8,2017.2 596.2,2017.2 C601.8,2017.2 605.6,2009 603.3,1998" fill="none" stroke="#111" stroke-width="2.9" stroke-linecap="round"/>
<path d="M589.5,1998.8 C588.8,2008 591.8,2017.2 596.2,2017.2 C601.8,2017.2 605.6,2009 603.3,1998" fill="none" stroke="#fff" stroke-width="0.7"/>
<path class="dw" d="M599.3,1990.2 L605.1,1997.3 L600.3,1998.6 Z" stroke-width="1.1"/>
<path class="d" d="M318,1915.7 H551"/>
<path class="f" d="M308.6,1915.7 L326.6,1912.5 V1918.9 Z M560.6,1915.7 L542.6,1912.5 V1918.9 Z"/>
<path class="d" d="M297.9,1951.2 V1932.3 H571 V1951.2 M300.2,1951.2 V1934.3 H568.7 V1951.2 M297.9,1951.2 H300.2 M568.7,1951.2 H571"/>
<path d="M300.2,1939.2 H568.7" stroke="#111" stroke-width="1.8"/>
<rect x="303.5" y="1935.2" width="16.6" height="2.6" rx="1.3" fill="#111"/>
<rect x="326.6" y="1935.2" width="4.6" height="2.6" rx="1.3" fill="#111"/>
<rect x="337.2" y="1935.2" width="17.1" height="2.6" rx="1.3" fill="#111"/>
<rect x="514.0" y="1935.2" width="17.0" height="2.6" rx="1.3" fill="#111"/>
<rect x="537.5" y="1935.2" width="4.5" height="2.6" rx="1.3" fill="#111"/>
<rect x="548.5" y="1935.2" width="17.0" height="2.6" rx="1.3" fill="#111"/>
<path class="d" d="M298.7,1954 V1973.4 M570.5,1954 V1973.4"/>
<path class="d" d="M300,1966.5 H568"/>
<path class="f" d="M295.2,1966.5 L312.7,1963 V1970 Z M574.1,1966.5 L556.6,1963 V1970 Z"/>
<path class="dw" d="M553.4,2067 V2035.5 L556.5,2031.2 L559.7,2035.5 V2067"/>
<path class="d" d="M546.6,2067 V2062.7 L551.3,2056.6 H562.5 L566.8,2062.7 V2067"/>
<rect class="dw" x="547.4" y="2067" width="18.6" height="9"/>
<rect class="dw" x="544.4" y="2076" width="24.6" height="9.5"/>
<path class="dw" d="M544.8,2085.5 H569 Q572,2104 566.4,2124.3 H544.8 Z"/>
<path class="dw" d="M544.4,2085.5 C541,2093 534,2098 525.9,2098 H501.7 C495,2098 490,2095.5 486.2,2094.1 V2116.1 C490,2117 495,2117.8 500.9,2117.8 L519,2117 C525,2116.5 531,2113 536.2,2113.1 C540,2113.2 543,2115.5 544.8,2118.3"/>
<rect class="dw" x="475.9" y="2087.7" width="10.3" height="38.3" rx="4.5"/>
<rect class="dw" x="459.5" y="2091.6" width="16.4" height="31" rx="1.8"/>
<rect x="942.5" y="442.9" width="301.9" height="54.2" fill="#fff" stroke="#111" stroke-width="1.5"/>
<path d="M1041.2,453.0h1.1v1.1h-1.1zM1138.3,449.1h1.1v1.1h-1.1zM1104.2,463.6h1.1v1.1h-1.1zM962.2,470.6h1.1v1.1h-1.1zM956.1,467.0h1.1v1.1h-1.1zM965.7,450.0h1.1v1.1h-1.1zM1071.1,486.4h1.1v1.1h-1.1zM981.8,456.6h1.1v1.1h-1.1zM1131.3,492.4h1.1v1.1h-1.1zM1116.4,465.1h1.1v1.1h-1.1zM1234.9,447.8h1.1v1.1h-1.1zM1200.0,459.8h1.1v1.1h-1.1zM987.8,451.3h1.1v1.1h-1.1zM1036.6,485.9h1.1v1.1h-1.1zM998.7,474.3h1.1v1.1h-1.1zM1134.8,463.9h1.1v1.1h-1.1zM1107.7,448.6h1.1v1.1h-1.1zM962.7,455.7h1.1v1.1h-1.1zM1147.1,466.7h1.1v1.1h-1.1zM1038.3,474.5h1.1v1.1h-1.1zM1079.6,460.3h1.1v1.1h-1.1zM1180.9,480.1h1.1v1.1h-1.1zM1017.5,473.9h1.1v1.1h-1.1zM1101.0,488.8h1.1v1.1h-1.1zM1161.6,459.8h1.1v1.1h-1.1zM1236.1,451.3h1.1v1.1h-1.1zM1069.2,483.0h1.1v1.1h-1.1zM990.1,469.7h1.1v1.1h-1.1zM956.6,478.6h1.1v1.1h-1.1zM1172.1,473.9h1.1v1.1h-1.1zM1205.0,461.0h1.1v1.1h-1.1zM1151.5,474.9h1.1v1.1h-1.1zM1117.2,468.1h1.1v1.1h-1.1zM1194.5,492.3h1.1v1.1h-1.1zM1085.8,478.4h1.1v1.1h-1.1zM963.0,480.2h1.1v1.1h-1.1zM1137.2,494.7h1.1v1.1h-1.1zM1189.1,459.6h1.1v1.1h-1.1zM1059.6,478.6h1.1v1.1h-1.1zM951.7,468.4h1.1v1.1h-1.1zM994.9,451.3h1.1v1.1h-1.1zM962.5,483.5h1.1v1.1h-1.1zM983.4,457.8h1.1v1.1h-1.1zM1061.1,488.6h1.1v1.1h-1.1zM968.9,467.7h1.1v1.1h-1.1zM1108.2,489.2h1.1v1.1h-1.1zM1188.3,488.3h1.1v1.1h-1.1zM1027.7,466.1h1.1v1.1h-1.1zM1051.6,489.3h1.1v1.1h-1.1zM1229.4,453.0h1.1v1.1h-1.1zM997.3,457.0h1.1v1.1h-1.1zM1014.3,469.5h1.1v1.1h-1.1zM1120.0,458.5h1.1v1.1h-1.1zM946.2,466.2h1.1v1.1h-1.1zM1054.7,473.5h1.1v1.1h-1.1zM1228.1,479.7h1.1v1.1h-1.1zM1098.1,476.1h1.1v1.1h-1.1zM1145.8,448.2h1.1v1.1h-1.1zM1212.2,484.1h1.1v1.1h-1.1zM1204.7,485.0h1.1v1.1h-1.1zM1061.5,465.2h1.1v1.1h-1.1zM975.8,476.9h1.1v1.1h-1.1zM963.5,448.8h1.1v1.1h-1.1zM1007.0,453.5h1.1v1.1h-1.1zM1046.0,448.1h1.1v1.1h-1.1zM945.1,453.0h1.1v1.1h-1.1zM975.1,463.5h1.1v1.1h-1.1zM952.6,488.8h1.1v1.1h-1.1zM1127.4,452.9h1.1v1.1h-1.1zM1019.9,462.7h1.1v1.1h-1.1zM1053.2,451.6h1.1v1.1h-1.1zM1197.1,494.7h1.1v1.1h-1.1zM1083.4,469.4h1.1v1.1h-1.1zM970.5,450.6h1.1v1.1h-1.1zM1046.8,458.6h1.1v1.1h-1.1zM1191.2,453.5h1.1v1.1h-1.1zM951.9,492.6h1.1v1.1h-1.1zM1101.9,452.8h1.1v1.1h-1.1zM1106.3,446.8h1.1v1.1h-1.1zM1101.8,493.9h1.1v1.1h-1.1zM1201.4,480.0h1.1v1.1h-1.1zM1022.6,463.7h1.1v1.1h-1.1zM994.6,483.7h1.1v1.1h-1.1zM1103.2,484.1h1.1v1.1h-1.1zM1042.9,456.5h1.1v1.1h-1.1zM1186.0,494.3h1.1v1.1h-1.1zM1198.2,485.4h1.1v1.1h-1.1zM1188.0,482.1h1.1v1.1h-1.1zM1012.3,471.1h1.1v1.1h-1.1zM1050.6,446.9h1.1v1.1h-1.1zM953.3,459.3h1.1v1.1h-1.1zM1022.0,479.8h1.1v1.1h-1.1zM1229.1,467.6h1.1v1.1h-1.1zM1223.3,494.4h1.1v1.1h-1.1zM1228.6,463.5h1.1v1.1h-1.1zM1010.5,456.7h1.1v1.1h-1.1zM1003.4,455.6h1.1v1.1h-1.1zM1130.3,490.1h1.1v1.1h-1.1zM1194.6,469.2h1.1v1.1h-1.1zM1138.9,485.1h1.1v1.1h-1.1zM970.2,478.2h1.1v1.1h-1.1zM1215.2,484.2h1.1v1.1h-1.1zM1167.8,469.2h1.1v1.1h-1.1zM998.0,484.6h1.1v1.1h-1.1zM1043.8,485.1h1.1v1.1h-1.1zM1233.6,465.1h1.1v1.1h-1.1zM1064.2,492.4h1.1v1.1h-1.1zM1160.3,453.9h1.1v1.1h-1.1zM982.7,453.0h1.1v1.1h-1.1zM1213.7,485.4h1.1v1.1h-1.1zM988.4,486.4h1.1v1.1h-1.1zM1236.2,478.0h1.1v1.1h-1.1zM1049.1,472.7h1.1v1.1h-1.1zM983.9,446.2h1.1v1.1h-1.1zM1233.4,477.7h1.1v1.1h-1.1zM1101.4,491.7h1.1v1.1h-1.1zM1073.8,488.7h1.1v1.1h-1.1zM1190.4,455.9h1.1v1.1h-1.1zM1019.8,460.0h1.1v1.1h-1.1zM1016.4,474.5h1.1v1.1h-1.1zM1022.0,466.2h1.1v1.1h-1.1zM983.9,490.5h1.1v1.1h-1.1zM1050.1,468.2h1.1v1.1h-1.1zM1118.3,490.3h1.1v1.1h-1.1zM1069.9,490.9h1.1v1.1h-1.1zM1094.0,471.8h1.1v1.1h-1.1zM1100.5,446.4h1.1v1.1h-1.1zM1075.7,454.6h1.1v1.1h-1.1zM946.2,485.1h1.1v1.1h-1.1zM996.2,468.9h1.1v1.1h-1.1zM1160.4,473.0h1.1v1.1h-1.1zM1041.8,471.2h1.1v1.1h-1.1zM1110.0,484.3h1.1v1.1h-1.1zM976.5,473.2h1.1v1.1h-1.1zM1018.8,459.2h1.1v1.1h-1.1zM1174.4,470.6h1.1v1.1h-1.1zM1111.8,483.1h1.1v1.1h-1.1zM1216.0,467.4h1.1v1.1h-1.1zM1126.9,470.5h1.1v1.1h-1.1zM1097.1,479.8h1.1v1.1h-1.1zM1079.3,471.9h1.1v1.1h-1.1zM1087.0,492.1h1.1v1.1h-1.1zM1152.7,488.9h1.1v1.1h-1.1zM1224.8,458.3h1.1v1.1h-1.1zM1111.2,492.2h1.1v1.1h-1.1zM1194.5,452.3h1.1v1.1h-1.1zM981.1,467.4h1.1v1.1h-1.1zM966.5,457.4h1.1v1.1h-1.1zM966.7,478.6h1.1v1.1h-1.1zM1177.8,489.9h1.1v1.1h-1.1zM990.9,480.9h1.1v1.1h-1.1zM1141.1,452.6h1.1v1.1h-1.1zM1207.2,493.4h1.1v1.1h-1.1zM1010.2,492.6h1.1v1.1h-1.1zM1063.3,469.6h1.1v1.1h-1.1zM1239.0,486.7h1.1v1.1h-1.1zM993.0,466.9h1.1v1.1h-1.1zM1098.1,462.3h1.1v1.1h-1.1zM1003.1,461.3h1.1v1.1h-1.1zM1159.5,446.5h1.1v1.1h-1.1zM1109.6,467.3h1.1v1.1h-1.1zM950.4,461.9h1.1v1.1h-1.1zM1130.3,470.9h1.1v1.1h-1.1zM964.1,494.3h1.1v1.1h-1.1zM1179.1,493.6h1.1v1.1h-1.1zM976.1,458.6h1.1v1.1h-1.1zM956.8,484.1h1.1v1.1h-1.1zM1025.3,451.9h1.1v1.1h-1.1zM1070.4,490.6h1.1v1.1h-1.1zM1188.2,458.3h1.1v1.1h-1.1zM989.4,491.0h1.1v1.1h-1.1zM1114.5,480.2h1.1v1.1h-1.1zM971.6,448.3h1.1v1.1h-1.1zM1149.4,466.6h1.1v1.1h-1.1zM966.5,491.9h1.1v1.1h-1.1zM1133.4,485.2h1.1v1.1h-1.1zM969.9,487.9h1.1v1.1h-1.1zM964.8,488.2h1.1v1.1h-1.1zM1079.8,462.3h1.1v1.1h-1.1zM1109.3,491.4h1.1v1.1h-1.1zM1024.6,451.9h1.1v1.1h-1.1zM1101.5,457.3h1.1v1.1h-1.1zM977.5,453.5h1.1v1.1h-1.1zM960.0,455.5h1.1v1.1h-1.1zM1037.7,460.6h1.1v1.1h-1.1zM1170.6,459.9h1.1v1.1h-1.1zM1093.5,454.3h1.1v1.1h-1.1zM1048.1,446.4h1.1v1.1h-1.1zM1019.4,446.3h1.1v1.1h-1.1zM1162.7,472.8h1.1v1.1h-1.1zM1001.3,469.0h1.1v1.1h-1.1zM1222.6,450.8h1.1v1.1h-1.1zM1188.2,466.9h1.1v1.1h-1.1zM1092.0,486.8h1.1v1.1h-1.1zM1061.7,470.6h1.1v1.1h-1.1zM1149.3,494.1h1.1v1.1h-1.1zM1046.8,486.7h1.1v1.1h-1.1zM1154.9,477.0h1.1v1.1h-1.1zM1065.2,462.7h1.1v1.1h-1.1zM961.2,451.9h1.1v1.1h-1.1zM966.0,482.2h1.1v1.1h-1.1zM1020.9,453.6h1.1v1.1h-1.1zM970.1,487.1h1.1v1.1h-1.1zM1203.5,478.7h1.1v1.1h-1.1zM1028.7,457.5h1.1v1.1h-1.1zM1032.0,468.2h1.1v1.1h-1.1zM991.8,467.6h1.1v1.1h-1.1zM1023.2,493.1h1.1v1.1h-1.1zM1233.9,472.6h1.1v1.1h-1.1zM1017.6,493.3h1.1v1.1h-1.1zM1036.9,463.2h1.1v1.1h-1.1zM945.3,464.4h1.1v1.1h-1.1zM1086.0,470.4h1.1v1.1h-1.1zM1004.7,470.5h1.1v1.1h-1.1zM946.5,458.6h1.1v1.1h-1.1zM971.7,465.3h1.1v1.1h-1.1zM957.4,446.6h1.1v1.1h-1.1zM1035.4,457.0h1.1v1.1h-1.1zM1118.9,471.7h1.1v1.1h-1.1zM1167.9,478.0h1.1v1.1h-1.1zM1157.7,489.0h1.1v1.1h-1.1zM1060.7,461.6h1.1v1.1h-1.1zM1237.5,452.9h1.1v1.1h-1.1zM1160.1,477.3h1.1v1.1h-1.1zM958.0,486.8h1.1v1.1h-1.1zM1209.9,476.6h1.1v1.1h-1.1zM1163.0,485.7h1.1v1.1h-1.1zM986.4,471.4h1.1v1.1h-1.1zM1094.8,486.8h1.1v1.1h-1.1zM1184.0,486.4h1.1v1.1h-1.1zM1118.5,489.7h1.1v1.1h-1.1zM1147.8,479.8h1.1v1.1h-1.1zM1013.3,447.0h1.1v1.1h-1.1zM984.5,463.4h1.1v1.1h-1.1zM976.2,486.9h1.1v1.1h-1.1zM1110.9,476.6h1.1v1.1h-1.1zM1131.0,479.2h1.1v1.1h-1.1zM1090.3,445.7h1.1v1.1h-1.1zM1181.9,482.5h1.1v1.1h-1.1zM1094.4,472.0h1.1v1.1h-1.1zM1140.8,448.8h1.1v1.1h-1.1zM1163.8,458.0h1.1v1.1h-1.1zM967.1,458.6h1.1v1.1h-1.1zM1161.6,455.7h1.1v1.1h-1.1zM1164.7,493.8h1.1v1.1h-1.1zM1091.7,464.4h1.1v1.1h-1.1zM1087.3,479.3h1.1v1.1h-1.1zM1172.8,476.0h1.1v1.1h-1.1zM1135.9,449.3h1.1v1.1h-1.1zM988.8,458.1h1.1v1.1h-1.1zM1165.7,460.6h1.1v1.1h-1.1zM1113.6,446.1h1.1v1.1h-1.1zM963.0,458.8h1.1v1.1h-1.1zM1144.6,479.8h1.1v1.1h-1.1zM1145.7,459.9h1.1v1.1h-1.1zM1098.4,468.5h1.1v1.1h-1.1zM1083.5,451.4h1.1v1.1h-1.1zM1210.4,455.4h1.1v1.1h-1.1zM1235.5,491.8h1.1v1.1h-1.1zM950.2,468.2h1.1v1.1h-1.1zM1188.5,493.4h1.1v1.1h-1.1zM1078.5,458.8h1.1v1.1h-1.1zM1007.3,492.3h1.1v1.1h-1.1zM1007.6,474.3h1.1v1.1h-1.1zM987.1,471.4h1.1v1.1h-1.1zM1228.0,452.1h1.1v1.1h-1.1zM1188.6,470.7h1.1v1.1h-1.1zM1208.4,480.3h1.1v1.1h-1.1zM1013.7,489.9h1.1v1.1h-1.1zM1089.4,446.7h1.1v1.1h-1.1zM946.1,469.8h1.1v1.1h-1.1zM1078.9,460.4h1.1v1.1h-1.1zM986.8,462.5h1.1v1.1h-1.1zM1038.9,487.1h1.1v1.1h-1.1zM945.5,482.7h1.1v1.1h-1.1zM1194.2,451.4h1.1v1.1h-1.1zM1220.1,480.8h1.1v1.1h-1.1zM1212.8,459.8h1.1v1.1h-1.1zM1055.5,464.9h1.1v1.1h-1.1zM1241.6,474.7h1.1v1.1h-1.1zM1052.1,466.7h1.1v1.1h-1.1zM1026.7,447.9h1.1v1.1h-1.1zM975.2,486.8h1.1v1.1h-1.1zM1029.8,491.8h1.1v1.1h-1.1zM1019.0,458.7h1.1v1.1h-1.1zM1096.8,454.9h1.1v1.1h-1.1zM1055.9,492.8h1.1v1.1h-1.1zM1207.6,485.7h1.1v1.1h-1.1zM1132.4,490.7h1.1v1.1h-1.1zM1224.4,472.7h1.1v1.1h-1.1zM1158.7,447.9h1.1v1.1h-1.1zM1162.5,467.8h1.1v1.1h-1.1zM1168.5,477.4h1.1v1.1h-1.1zM1030.0,447.9h1.1v1.1h-1.1zM1220.3,451.8h1.1v1.1h-1.1zM1085.2,462.5h1.1v1.1h-1.1zM1033.4,482.1h1.1v1.1h-1.1zM1235.0,458.4h1.1v1.1h-1.1zM1139.8,460.4h1.1v1.1h-1.1zM1110.5,465.0h1.1v1.1h-1.1zM994.7,453.5h1.1v1.1h-1.1zM1006.7,490.3h1.1v1.1h-1.1zM1092.6,456.4h1.1v1.1h-1.1zM1214.2,494.8h1.1v1.1h-1.1zM1078.6,452.4h1.1v1.1h-1.1zM1002.1,450.0h1.1v1.1h-1.1zM1046.6,450.0h1.1v1.1h-1.1zM1016.0,458.3h1.1v1.1h-1.1zM1114.2,489.4h1.1v1.1h-1.1zM1167.6,465.9h1.1v1.1h-1.1zM1067.9,471.4h1.1v1.1h-1.1zM1056.9,462.2h1.1v1.1h-1.1zM963.4,459.2h1.1v1.1h-1.1zM1232.4,451.7h1.1v1.1h-1.1zM1094.5,476.7h1.1v1.1h-1.1zM1201.3,456.2h1.1v1.1h-1.1zM1025.5,457.8h1.1v1.1h-1.1zM1063.7,467.6h1.1v1.1h-1.1zM1228.3,487.5h1.1v1.1h-1.1zM1204.2,446.6h1.1v1.1h-1.1zM954.6,480.6h1.1v1.1h-1.1zM1211.0,468.9h1.1v1.1h-1.1zM1119.4,445.5h1.1v1.1h-1.1zM1061.3,491.4h1.1v1.1h-1.1zM1190.2,487.8h1.1v1.1h-1.1zM1233.8,457.8h1.1v1.1h-1.1zM977.4,453.1h1.1v1.1h-1.1zM1100.1,479.3h1.1v1.1h-1.1zM1224.6,481.2h1.1v1.1h-1.1zM1137.3,483.4h1.1v1.1h-1.1zM1080.8,472.8h1.1v1.1h-1.1zM956.7,484.2h1.1v1.1h-1.1zM1014.1,491.0h1.1v1.1h-1.1zM1136.7,460.5h1.1v1.1h-1.1zM983.0,458.0h1.1v1.1h-1.1zM1134.0,480.1h1.1v1.1h-1.1zM978.3,449.0h1.1v1.1h-1.1zM1100.8,474.4h1.1v1.1h-1.1zM1060.3,456.6h1.1v1.1h-1.1zM1123.5,446.0h1.1v1.1h-1.1zM1034.6,468.3h1.1v1.1h-1.1zM1229.8,477.4h1.1v1.1h-1.1zM1207.5,469.0h1.1v1.1h-1.1zM1014.7,457.7h1.1v1.1h-1.1zM1230.3,480.4h1.1v1.1h-1.1zM1036.3,446.6h1.1v1.1h-1.1zM1093.0,478.9h1.1v1.1h-1.1zM1069.7,458.2h1.1v1.1h-1.1zM1143.2,491.3h1.1v1.1h-1.1zM1012.4,447.2h1.1v1.1h-1.1zM1045.4,466.3h1.1v1.1h-1.1zM1147.7,455.3h1.1v1.1h-1.1zM1181.7,482.1h1.1v1.1h-1.1zM1094.9,455.7h1.1v1.1h-1.1zM1233.0,460.9h1.1v1.1h-1.1zM1188.5,456.9h1.1v1.1h-1.1zM1010.8,483.1h1.1v1.1h-1.1zM1032.6,492.6h1.1v1.1h-1.1zM1092.2,454.8h1.1v1.1h-1.1zM1011.3,466.1h1.1v1.1h-1.1zM1142.6,492.5h1.1v1.1h-1.1zM988.5,465.0h1.1v1.1h-1.1zM1008.2,493.7h1.1v1.1h-1.1zM987.1,448.1h1.1v1.1h-1.1zM962.9,465.0h1.1v1.1h-1.1zM1211.8,489.2h1.1v1.1h-1.1zM1162.6,494.9h1.1v1.1h-1.1zM1221.7,461.8h1.1v1.1h-1.1zM1000.1,491.8h1.1v1.1h-1.1zM1166.7,447.1h1.1v1.1h-1.1zM1142.3,464.2h1.1v1.1h-1.1zM1056.0,461.9h1.1v1.1h-1.1zM995.3,445.6h1.1v1.1h-1.1zM1028.1,462.9h1.1v1.1h-1.1zM1228.8,451.6h1.1v1.1h-1.1zM1231.4,455.8h1.1v1.1h-1.1zM1050.9,486.2h1.1v1.1h-1.1zM1189.1,466.9h1.1v1.1h-1.1zM959.6,468.9h1.1v1.1h-1.1zM1055.7,491.0h1.1v1.1h-1.1zM1002.3,463.5h1.1v1.1h-1.1zM1211.4,447.0h1.1v1.1h-1.1zM1067.0,485.7h1.1v1.1h-1.1zM1172.7,447.5h1.1v1.1h-1.1zM955.4,448.6h1.1v1.1h-1.1zM1218.3,458.2h1.1v1.1h-1.1zM1166.9,490.0h1.1v1.1h-1.1zM1045.7,459.0h1.1v1.1h-1.1zM1229.4,476.0h1.1v1.1h-1.1zM1022.9,481.0h1.1v1.1h-1.1zM1039.0,459.1h1.1v1.1h-1.1zM946.1,482.9h1.1v1.1h-1.1zM1217.2,476.9h1.1v1.1h-1.1zM1225.1,446.7h1.1v1.1h-1.1zM1014.5,469.0h1.1v1.1h-1.1zM1229.2,492.7h1.1v1.1h-1.1zM1059.8,457.9h1.1v1.1h-1.1zM1072.7,469.9h1.1v1.1h-1.1zM1220.6,454.6h1.1v1.1h-1.1zM1183.4,482.1h1.1v1.1h-1.1zM1189.4,483.8h1.1v1.1h-1.1zM1125.4,461.7h1.1v1.1h-1.1zM1039.9,463.4h1.1v1.1h-1.1zM1177.3,449.4h1.1v1.1h-1.1zM1003.6,482.8h1.1v1.1h-1.1zM1018.5,448.7h1.1v1.1h-1.1zM955.1,472.9h1.1v1.1h-1.1zM1041.8,494.0h1.1v1.1h-1.1zM1207.4,494.4h1.1v1.1h-1.1zM1023.7,449.7h1.1v1.1h-1.1zM973.6,470.2h1.1v1.1h-1.1zM1155.8,467.6h1.1v1.1h-1.1zM1014.6,466.1h1.1v1.1h-1.1zM1129.2,478.9h1.1v1.1h-1.1zM1167.1,487.4h1.1v1.1h-1.1zM1142.3,451.5h1.1v1.1h-1.1zM1194.7,460.0h1.1v1.1h-1.1zM1113.4,464.0h1.1v1.1h-1.1zM1164.2,455.4h1.1v1.1h-1.1zM1018.5,457.6h1.1v1.1h-1.1zM990.5,489.3h1.1v1.1h-1.1zM1116.7,461.7h1.1v1.1h-1.1zM1062.6,494.6h1.1v1.1h-1.1zM1095.7,457.0h1.1v1.1h-1.1zM1185.1,477.8h1.1v1.1h-1.1zM1239.3,450.6h1.1v1.1h-1.1zM1086.0,486.0h1.1v1.1h-1.1zM1194.6,490.8h1.1v1.1h-1.1zM957.0,460.0h1.1v1.1h-1.1zM980.4,454.9h1.1v1.1h-1.1zM1234.0,474.4h1.1v1.1h-1.1zM1221.3,463.9h1.1v1.1h-1.1zM1202.2,467.7h1.1v1.1h-1.1zM1022.2,484.0h1.1v1.1h-1.1zM1225.9,450.7h1.1v1.1h-1.1zM1122.1,476.2h1.1v1.1h-1.1zM1009.6,463.8h1.1v1.1h-1.1zM987.0,455.6h1.1v1.1h-1.1zM1020.7,475.2h1.1v1.1h-1.1zM1138.5,455.6h1.1v1.1h-1.1zM948.4,461.7h1.1v1.1h-1.1zM1146.5,454.7h1.1v1.1h-1.1zM1037.7,455.6h1.1v1.1h-1.1zM1181.2,472.6h1.1v1.1h-1.1zM963.8,450.5h1.1v1.1h-1.1zM1062.4,472.7h1.1v1.1h-1.1zM1134.8,450.0h1.1v1.1h-1.1zM993.6,479.9h1.1v1.1h-1.1zM1066.7,459.5h1.1v1.1h-1.1zM1036.4,492.7h1.1v1.1h-1.1zM1037.8,473.5h1.1v1.1h-1.1zM1051.1,466.1h1.1v1.1h-1.1zM1201.7,494.8h1.1v1.1h-1.1zM1053.0,455.3h1.1v1.1h-1.1zM1161.2,455.6h1.1v1.1h-1.1zM946.7,490.1h1.1v1.1h-1.1zM1070.9,486.1h1.1v1.1h-1.1zM1065.6,489.2h1.1v1.1h-1.1zM1081.9,453.5h1.1v1.1h-1.1zM949.4,472.8h1.1v1.1h-1.1zM1135.3,490.5h1.1v1.1h-1.1zM971.4,476.3h1.1v1.1h-1.1zM1055.1,470.5h1.1v1.1h-1.1zM988.3,459.5h1.1v1.1h-1.1zM1099.8,491.3h1.1v1.1h-1.1zM977.3,469.8h1.1v1.1h-1.1zM1184.0,493.4h1.1v1.1h-1.1zM1003.6,451.8h1.1v1.1h-1.1zM1225.1,493.8h1.1v1.1h-1.1zM1088.4,448.1h1.1v1.1h-1.1zM1220.1,464.7h1.1v1.1h-1.1zM1213.6,476.2h1.1v1.1h-1.1zM1189.9,453.4h1.1v1.1h-1.1zM1178.4,456.5h1.1v1.1h-1.1zM1065.1,487.4h1.1v1.1h-1.1zM1191.3,454.6h1.1v1.1h-1.1zM1009.8,465.3h1.1v1.1h-1.1zM1098.8,464.5h1.1v1.1h-1.1zM981.5,457.7h1.1v1.1h-1.1zM1160.3,489.9h1.1v1.1h-1.1zM957.2,473.3h1.1v1.1h-1.1zM1170.0,447.4h1.1v1.1h-1.1zM1193.9,451.3h1.1v1.1h-1.1zM1123.1,472.7h1.1v1.1h-1.1zM1131.2,460.7h1.1v1.1h-1.1zM1069.8,474.3h1.1v1.1h-1.1zM1071.4,478.1h1.1v1.1h-1.1zM1077.7,467.2h1.1v1.1h-1.1zM951.9,476.1h1.1v1.1h-1.1zM1090.4,457.1h1.1v1.1h-1.1zM1171.8,484.1h1.1v1.1h-1.1zM1081.1,454.4h1.1v1.1h-1.1zM1085.5,450.8h1.1v1.1h-1.1zM983.2,466.8h1.1v1.1h-1.1zM972.2,467.4h1.1v1.1h-1.1zM1096.5,447.5h1.1v1.1h-1.1zM1134.0,449.6h1.1v1.1h-1.1zM1162.8,484.0h1.1v1.1h-1.1zM1096.9,448.2h1.1v1.1h-1.1zM1094.7,464.2h1.1v1.1h-1.1zM1227.4,452.2h1.1v1.1h-1.1zM1199.5,494.8h1.1v1.1h-1.1zM1162.4,485.8h1.1v1.1h-1.1zM1002.5,494.1h1.1v1.1h-1.1zM1091.1,492.9h1.1v1.1h-1.1zM1217.1,453.7h1.1v1.1h-1.1zM1179.1,491.6h1.1v1.1h-1.1zM964.5,462.9h1.1v1.1h-1.1zM1169.6,453.4h1.1v1.1h-1.1zM1211.3,459.1h1.1v1.1h-1.1zM1187.2,452.6h1.1v1.1h-1.1zM1094.2,491.0h1.1v1.1h-1.1zM1006.9,458.5h1.1v1.1h-1.1zM1095.3,461.3h1.1v1.1h-1.1zM955.9,454.5h1.1v1.1h-1.1zM992.9,491.9h1.1v1.1h-1.1zM1146.9,489.8h1.1v1.1h-1.1zM995.1,484.4h1.1v1.1h-1.1zM979.2,471.8h1.1v1.1h-1.1zM1134.0,463.3h1.1v1.1h-1.1zM1204.3,473.0h1.1v1.1h-1.1zM1117.3,489.2h1.1v1.1h-1.1zM976.1,494.7h1.1v1.1h-1.1zM1132.0,465.0h1.1v1.1h-1.1zM1181.9,458.6h1.1v1.1h-1.1zM1239.2,474.1h1.1v1.1h-1.1zM1052.0,483.3h1.1v1.1h-1.1zM1076.4,454.2h1.1v1.1h-1.1zM1165.8,447.9h1.1v1.1h-1.1zM1188.5,458.1h1.1v1.1h-1.1zM1134.9,494.2h1.1v1.1h-1.1zM1119.0,478.4h1.1v1.1h-1.1zM1037.9,445.6h1.1v1.1h-1.1zM955.0,452.9h1.1v1.1h-1.1zM1128.0,466.9h1.1v1.1h-1.1zM1097.3,489.8h1.1v1.1h-1.1zM984.2,456.7h1.1v1.1h-1.1zM1139.0,446.6h1.1v1.1h-1.1zM945.8,463.1h1.1v1.1h-1.1zM976.6,463.2h1.1v1.1h-1.1zM1011.6,474.4h1.1v1.1h-1.1zM1120.0,455.6h1.1v1.1h-1.1zM1130.3,469.0h1.1v1.1h-1.1zM985.0,491.9h1.1v1.1h-1.1zM1017.3,452.9h1.1v1.1h-1.1zM973.5,477.1h1.1v1.1h-1.1zM1203.8,484.2h1.1v1.1h-1.1zM1064.4,458.6h1.1v1.1h-1.1zM948.4,477.4h1.1v1.1h-1.1zM1112.0,462.8h1.1v1.1h-1.1zM1136.7,467.5h1.1v1.1h-1.1zM1223.3,481.8h1.1v1.1h-1.1zM1018.8,490.2h1.1v1.1h-1.1zM958.1,471.8h1.1v1.1h-1.1zM1065.6,457.3h1.1v1.1h-1.1zM962.3,484.1h1.1v1.1h-1.1zM948.7,472.8h1.1v1.1h-1.1zM1224.5,452.5h1.1v1.1h-1.1zM1004.3,475.6h1.1v1.1h-1.1zM1095.6,477.3h1.1v1.1h-1.1zM1186.6,454.1h1.1v1.1h-1.1zM1036.9,460.4h1.1v1.1h-1.1zM959.4,489.5h1.1v1.1h-1.1zM1177.5,480.9h1.1v1.1h-1.1zM946.9,487.3h1.1v1.1h-1.1zM1166.3,468.5h1.1v1.1h-1.1zM1165.3,467.9h1.1v1.1h-1.1zM1012.1,450.7h1.1v1.1h-1.1zM1014.0,447.4h1.1v1.1h-1.1zM1044.6,482.6h1.1v1.1h-1.1zM1151.4,487.3h1.1v1.1h-1.1zM1156.4,458.7h1.1v1.1h-1.1zM1109.5,467.1h1.1v1.1h-1.1zM1179.2,471.4h1.1v1.1h-1.1zM1023.8,477.3h1.1v1.1h-1.1zM1231.6,456.2h1.1v1.1h-1.1zM1206.4,446.3h1.1v1.1h-1.1zM1022.3,457.2h1.1v1.1h-1.1zM1165.9,492.3h1.1v1.1h-1.1zM1166.6,461.7h1.1v1.1h-1.1zM1206.4,461.8h1.1v1.1h-1.1zM1016.0,490.4h1.1v1.1h-1.1zM1132.3,479.8h1.1v1.1h-1.1zM1142.6,494.0h1.1v1.1h-1.1zM1084.4,487.1h1.1v1.1h-1.1zM1152.2,487.9h1.1v1.1h-1.1zM1074.9,481.4h1.1v1.1h-1.1zM1114.4,460.7h1.1v1.1h-1.1zM1008.0,476.3h1.1v1.1h-1.1zM968.1,490.6h1.1v1.1h-1.1zM987.9,446.8h1.1v1.1h-1.1zM976.7,491.5h1.1v1.1h-1.1zM1047.4,452.5h1.1v1.1h-1.1zM953.5,447.6h1.1v1.1h-1.1zM1150.7,476.9h1.1v1.1h-1.1zM1152.0,482.0h1.1v1.1h-1.1zM964.5,474.7h1.1v1.1h-1.1zM1052.9,486.0h1.1v1.1h-1.1zM1188.4,489.6h1.1v1.1h-1.1zM964.6,488.5h1.1v1.1h-1.1zM1216.6,492.2h1.1v1.1h-1.1zM976.8,455.7h1.1v1.1h-1.1zM978.3,447.2h1.1v1.1h-1.1zM1196.8,485.7h1.1v1.1h-1.1zM1133.3,486.3h1.1v1.1h-1.1zM1132.6,459.7h1.1v1.1h-1.1zM974.7,450.3h1.1v1.1h-1.1zM1169.9,455.6h1.1v1.1h-1.1zM1039.8,466.5h1.1v1.1h-1.1zM951.2,458.2h1.1v1.1h-1.1zM1028.9,480.9h1.1v1.1h-1.1zM1054.3,461.4h1.1v1.1h-1.1zM1231.3,470.4h1.1v1.1h-1.1zM1197.9,476.1h1.1v1.1h-1.1zM954.2,465.9h1.1v1.1h-1.1zM1074.6,483.8h1.1v1.1h-1.1zM1048.0,480.4h1.1v1.1h-1.1zM1104.8,456.2h1.1v1.1h-1.1zM1201.1,450.0h1.1v1.1h-1.1zM1188.5,453.9h1.1v1.1h-1.1z" fill="#222"/>
<path d="M1073.9,463.6 L1079.7,470 V500 H1068.1 V470 Z" fill="#1a1a1a"/>
<path d="M1068.9,472.0 H1078.9" stroke="#fff" stroke-width="0.8"/>
<path d="M1068.9,476.4 H1078.9" stroke="#fff" stroke-width="0.8"/>
<path d="M1068.9,480.8 H1078.9" stroke="#fff" stroke-width="0.8"/>
<path d="M1068.9,485.2 H1078.9" stroke="#fff" stroke-width="0.8"/>
<path d="M1068.9,489.6 H1078.9" stroke="#fff" stroke-width="0.8"/>
<path d="M1068.9,494.0 H1078.9" stroke="#fff" stroke-width="0.8"/>
<rect x="1066.0" y="500" width="15.8" height="3.2" fill="#111"/>
<path class="d" d="M1073.9,503 V540"/>
<ellipse cx="1073.9" cy="537.8" rx="13.3" ry="4.6" fill="none" stroke="#111" stroke-width="1.6"/>
<ellipse cx="1073.9" cy="537.6" rx="8" ry="2.4" fill="none" stroke="#111" stroke-width="1"/>
<path d="M1173.4,463.6 L1179.2,470 V500 H1167.6 V470 Z" fill="#1a1a1a"/>
<path d="M1168.4,472.0 H1178.4" stroke="#fff" stroke-width="0.8"/>
<path d="M1168.4,476.4 H1178.4" stroke="#fff" stroke-width="0.8"/>
<path d="M1168.4,480.8 H1178.4" stroke="#fff" stroke-width="0.8"/>
<path d="M1168.4,485.2 H1178.4" stroke="#fff" stroke-width="0.8"/>
<path d="M1168.4,489.6 H1178.4" stroke="#fff" stroke-width="0.8"/>
<path d="M1168.4,494.0 H1178.4" stroke="#fff" stroke-width="0.8"/>
<rect x="1165.5" y="500" width="15.8" height="3.2" fill="#111"/>
<path class="d" d="M1173.4,503 V540"/>
<ellipse cx="1173.4" cy="537.8" rx="13.3" ry="4.6" fill="none" stroke="#111" stroke-width="1.6"/>
<ellipse cx="1173.4" cy="537.6" rx="8" ry="2.4" fill="none" stroke="#111" stroke-width="1"/>
<path d="M1029.6,538.4 V525.3 Q1029.6,519.3 1035.6,519.3 H1209.8 Q1215.8,519.3 1215.8,525.3 V538.4" fill="none" stroke="#111" stroke-width="1.6"/>
<path d="M1032.2,538.4 V528 Q1032.2,524.7 1036,524.7 H1209.4 Q1213.2,524.7 1213.2,528 V538.4" fill="none" stroke="#111" stroke-width="1.1"/>
<rect x="1063.0" y="520.5" width="19.8" height="3" fill="#111"/>
<rect x="1100.5" y="520.5" width="4.9" height="3" fill="#111"/>
<rect x="1140.0" y="520.5" width="4.0" height="3" fill="#111"/>
<rect x="1163.6" y="520.5" width="18.7" height="3" fill="#111"/>
<path d="M1001.5,533 Q1001.5,527.6 1006,527.6 L1011,530 H1027.6 M1011,530 V536 L1006,538.6 Q1001.5,538.6 1001.5,533 Z" fill="#111" stroke="#111" stroke-width="1.2"/>
<path d="M1011,533 H1027" stroke="#111" stroke-width="1.2"/>
<path d="M1239,533 Q1239,527.6 1234.5,527.6 L1229.5,530 V536 L1234.5,538.6 Q1239,538.6 1239,533 Z" fill="#111"/>
<path d="M1229.5,533 H1217" stroke="#111" stroke-width="1.2"/>
<path class="d" d="M1023.9,533 V566.8 M1023.9,583.8 V596 M1023.9,629.3 V695.4"/>
<path class="d" d="M1221.6,533 V566.8 M1221.6,583.8 V611.4 M1221.6,629.3 V695.4"/>
<path d="M1072.5,546.3 L1077.0,553 V599 H1068.0 V553 Z" fill="#fff" stroke="#111" stroke-width="1.2"/>
<path d="M1067.2,553.8 L1077.8,552.0 M1067.2,557.8 L1077.8,556.0 M1067.2,561.8 L1077.8,560.0 M1067.2,565.8 L1077.8,564.0 M1067.2,569.8 L1077.8,568.0 M1067.2,573.8 L1077.8,572.0 M1067.2,577.8 L1077.8,576.0 M1067.2,581.8 L1077.8,580.0 M1067.2,585.8 L1077.8,584.0 M1067.2,589.8 L1077.8,588.0 M1067.2,593.8 L1077.8,592.0 M1067.2,597.8 L1077.8,596.0" stroke="#111" stroke-width="1.1" fill="none"/>
<path class="dw" d="M1068.0,598.9 V603.4 H1060.9 L1065.5,608.5 Q1069.5,611.4 1072.5,611.4 Q1075.5,611.4 1079.5,608.5 L1084.1,603.4 H1077.0 V598.9"/>
<path class="d" d="M1071.0,607 V611 M1074.0,607 V611 M1071.0,607 H1074.0"/>
<path d="M1173.4,546.3 L1177.9,553 V599 H1168.9 V553 Z" fill="#fff" stroke="#111" stroke-width="1.2"/>
<path d="M1168.1,553.8 L1178.7,552.0 M1168.1,557.8 L1178.7,556.0 M1168.1,561.8 L1178.7,560.0 M1168.1,565.8 L1178.7,564.0 M1168.1,569.8 L1178.7,568.0 M1168.1,573.8 L1178.7,572.0 M1168.1,577.8 L1178.7,576.0 M1168.1,581.8 L1178.7,580.0 M1168.1,585.8 L1178.7,584.0 M1168.1,589.8 L1178.7,588.0 M1168.1,593.8 L1178.7,592.0 M1168.1,597.8 L1178.7,596.0" stroke="#111" stroke-width="1.1" fill="none"/>
<path class="dw" d="M1168.9,598.9 V603.4 H1161.8 L1166.4,608.5 Q1170.4,611.4 1173.4,611.4 Q1176.4,611.4 1180.4,608.5 L1185.0,603.4 H1177.9 V598.9"/>
<path class="d" d="M1171.9,607 V611 M1174.9,607 V611 M1171.9,607 H1174.9"/>
<ellipse cx="1122.9" cy="700.8" rx="119.6" ry="19.6" fill="#fff" stroke="#111" stroke-width="2"/>
<path d="M1024.6,655.8 V695.4 A98.3,20.5 0 0 0 1221.2,695.4 V655.8 Z" fill="#fff" stroke="#111" stroke-width="1.5"/>
<ellipse cx="1122.9" cy="655.8" rx="98.3" ry="19.9" fill="#fff" stroke="#111" stroke-width="1.5"/>
<path class="d" d="M1120,636 V640 H1123.5 V642 H1127 V636 M1120,675.7 V680 H1123.5 V682.5 H1127 V675.8"/>
<path class="d" d="M1025,661 Q1025,666 1029,666 M1221,661 Q1221,666 1217,666"/>
<path d="M970.1,497.2 C969,510 969,525 976.3,546.5 C982,558 990,566 1008.8,572.2 C1020,574 1030,575 1036,581 C1039,586 1037.5,591 1035.9,593.6" fill="none" stroke="#1010d0" stroke-width="1.6"/>
<path d="M980.9,497.2 C981,510 982,525 992.6,543.8 C1000,553 1008,558 1024.3,562.3 C1036,566 1045,570 1051,578 C1055,588 1055,596 1052,606" fill="none" stroke="#d81818" stroke-width="1.6"/>
<path d="M1024.3,611.4 C1024,620 1025,625 1028,636 C1032,648 1040,656 1050,660 C1058,663 1075,664 1092.1,665 C1098,667 1103,671 1108.2,674.8" fill="none" stroke="#1010d0" stroke-width="1.6"/>
<path d="M1040.4,618.6 C1039,625 1039,636 1041,644 C1045,652 1052,657 1060,658.8 C1070,660.5 1080,661 1088.6,662.3 C1096,664 1103,670 1108.2,674.8" fill="none" stroke="#d81818" stroke-width="1.6"/>
<path class="dw" d="M1020.7,605.2 L1028,598 L1057.3,607.9 V616.8 L1041.3,625.7 L1020.7,615.9 Z"/>
<path class="d" d="M1020.7,605.2 L1041.3,612 L1057.3,607.9 M1041.3,612 V625.7"/>
<path class="dw" d="M1025,602 L1026,594 L1032,592 L1034,598 Z"/>
<path class="dw" d="M1031,604 L1032,596 L1039,594 L1041,601 Z"/>
<path class="dw" d="M1038,606 L1040,598 L1046,597 L1048,604 Z"/>
<circle class="d" cx="1025.5" cy="611" r="2"/><circle class="d" cx="1032" cy="613.5" r="2"/><circle class="d" cx="1038" cy="616" r="2"/>
<path d="M1184.8,820 C1190,815 1197,812 1208.4,814.8 L1194,829.6 Z" fill="#fff" stroke="none"/>
<circle cx="1296" cy="796.7" r="89.3" fill="none" stroke="#111" stroke-width="1.4"/>
<circle cx="1152.1" cy="860.8" r="52" fill="none" stroke="#111" stroke-width="1.4"/>
<path d="M1184.8,820.5 C1191,814.5 1199,812 1208.4,814.8 L1194,829.6" fill="#fff" stroke="#111" stroke-width="1.4"/>
<rect class="dw" x="1299.7" y="655.4" width="14.4" height="33" rx="2.5"/>
<path class="d" d="M1299.7,660 H1314.1 M1303.3,660 V686 M1306.9,660 V686 M1310.5,660 V686"/>
<path class="dw" d="M1301.5,688.4 H1312.3 L1311,696 L1309.3,705.2 H1304.2 L1303,696 Z"/>
<path class="dw" d="M1304.2,705.2 H1309.3 V741.3 L1310.5,748 L1308,757.5 H1305.4 L1303,748 L1304.2,741.3 Z"/>
<path d="M1302,716.6 C1320,716 1322,731 1304.5,735.3" fill="none" stroke="#111" stroke-width="2.6"/>
<path d="M1302,716.6 C1318,716.3 1320,730 1304.5,734" fill="none" stroke="#fff" stroke-width="1"/>
<path class="f" d="M1285.9,734.7 L1302.7,729.9 V739.5 Z"/>
<path class="f" d="M1332.1,700.4 H1339.9 V738.9 H1344.1 L1335.7,754.5 L1327.9,738.9 H1332.1 Z"/>
<g transform="translate(1250.4,735.3) rotate(35.4)"><path class="dw" d="M0,-1.3 H21.0 V-3.2 L28.0,0 L21.0,3.2 V1.3 H0 Z" stroke-width="1.1"/></g>
<g transform="translate(1218.0,758.7) rotate(35.4)"><path class="dw" d="M0,-1.3 H21.0 V-3.2 L28.0,0 L21.0,3.2 V1.3 H0 Z" stroke-width="1.1"/></g>
<g transform="translate(1370.5,833.7) rotate(-144.2)"><path class="dw" d="M0,-1.3 H19.6 V-3.2 L26.6,0 L19.6,3.2 V1.3 H0 Z" stroke-width="1.1"/></g>
<g transform="translate(1347.1,863.7) rotate(-147.4)"><path class="dw" d="M0,-1.3 H18.6 V-3.2 L25.6,0 L18.6,3.2 V1.3 H0 Z" stroke-width="1.1"/></g>
<path class="dw" d="M1263,806.1 L1293.7,830.1 L1328.5,804.9 L1297.9,781.5 Z" stroke-width="1.7"/>
<path class="dw" d="M1272,795.3 L1293.7,815.7 L1316.5,798.9 L1294.9,779.1 Z"/>
<path class="dw" d="M1272,795.3 V802.5 L1293.7,822.9 V815.7 Z"/>
<path class="dw" d="M1293.7,815.7 V822.9 L1316.5,806.1 V798.9 Z"/>
<path d="M1297,816 l3,-2.2 v4 l-3,2.2z M1303.5,811.2 l3,-2.2 v4 l-3,2.2z M1310,806.4 l3,-2.2 v4 l-3,2.2z" fill="#111"/>
<path class="dw" d="M1294.3,773.5 V778.5 A4.2,2.2 0 0 0 1302.7,778.5 V773.5" stroke-width="1.1"/><ellipse class="dw" cx="1298.5" cy="773.5" rx="4.2" ry="2.2" stroke-width="1.1"/><ellipse cx="1298.5" cy="773.5" rx="2.2" ry="1.1" fill="none" stroke="#111" stroke-width="0.7"/>
<path class="dw" d="M1284.7,780.7 V785.7 A4.2,2.2 0 0 0 1293.1,785.7 V780.7" stroke-width="1.1"/><ellipse class="dw" cx="1288.9" cy="780.7" rx="4.2" ry="2.2" stroke-width="1.1"/><ellipse cx="1288.9" cy="780.7" rx="2.2" ry="1.1" fill="none" stroke="#111" stroke-width="0.7"/>
<path class="dw" d="M1275.1,786.7 V791.7 A4.2,2.2 0 0 0 1283.5,791.7 V786.7" stroke-width="1.1"/><ellipse class="dw" cx="1279.3" cy="786.7" rx="4.2" ry="2.2" stroke-width="1.1"/><ellipse cx="1279.3" cy="786.7" rx="2.2" ry="1.1" fill="none" stroke="#111" stroke-width="0.7"/>
<path class="dw" d="M1301.5,779.5 V784.5 A4.2,2.2 0 0 0 1309.9,784.5 V779.5" stroke-width="1.1"/><ellipse class="dw" cx="1305.7" cy="779.5" rx="4.2" ry="2.2" stroke-width="1.1"/><ellipse cx="1305.7" cy="779.5" rx="2.2" ry="1.1" fill="none" stroke="#111" stroke-width="0.7"/>
<path class="dw" d="M1292.5,785.5 V790.5 A4.2,2.2 0 0 0 1300.9,790.5 V785.5" stroke-width="1.1"/><ellipse class="dw" cx="1296.7" cy="785.5" rx="4.2" ry="2.2" stroke-width="1.1"/><ellipse cx="1296.7" cy="785.5" rx="2.2" ry="1.1" fill="none" stroke="#111" stroke-width="0.7"/>
<path class="dw" d="M1283.5,792.7 V797.7 A4.2,2.2 0 0 0 1291.9,797.7 V792.7" stroke-width="1.1"/><ellipse class="dw" cx="1287.7" cy="792.7" rx="4.2" ry="2.2" stroke-width="1.1"/><ellipse cx="1287.7" cy="792.7" rx="2.2" ry="1.1" fill="none" stroke="#111" stroke-width="0.7"/>
<path d="M1251,760 C1262,765 1285,768 1293,777" fill="none" stroke="#111" stroke-width="2.8" stroke-linecap="round"/>
<path d="M1251,760 C1262,765 1285,768 1293,777" fill="none" stroke="#fff" stroke-width="1.0"/>
<path d="M1249,762 C1256,770 1260,786 1276,793" fill="none" stroke="#111" stroke-width="2.8" stroke-linecap="round"/>
<path d="M1249,762 C1256,770 1260,786 1276,793" fill="none" stroke="#fff" stroke-width="1.0"/>
<path class="dw" d="M1241,755.5 L1245.5,752 L1252.8,757.5 L1249,762.9 Z"/>
<path d="M1350,844 C1338,844 1322,836 1311.7,828.9" fill="none" stroke="#111" stroke-width="2.6" stroke-linecap="round"/>
<path d="M1350,844 C1338,844 1322,836 1311.7,828.9" fill="none" stroke="#fff" stroke-width="0.9"/>
<path d="M1350,845 L1320,821.7" fill="none" stroke="#111" stroke-width="2.6" stroke-linecap="round"/>
<path d="M1350,845 L1320,821.7" fill="none" stroke="#fff" stroke-width="0.9"/>
<path d="M1350,846 C1345,836 1337,822 1329.1,815.1" fill="none" stroke="#111" stroke-width="2.6" stroke-linecap="round"/>
<path d="M1350,846 C1345,836 1337,822 1329.1,815.1" fill="none" stroke="#fff" stroke-width="0.9"/>
<path class="dw" d="M1348.9,841 L1353,838.5 L1358.5,846 L1354,850.5 Z"/>
<rect class="dw" x="1127.5" y="831.8" width="13.7" height="30.6" stroke-width="1.3"/>
<circle cx="1134.3" cy="839.2" r="4.9" fill="#333" stroke="#111" stroke-width="1.2"/><circle cx="1134.3" cy="839.2" r="3" fill="none" stroke="#ddd" stroke-width="0.6"/>
<circle cx="1134.3" cy="853.9" r="4.9" fill="#333" stroke="#111" stroke-width="1.2"/><circle cx="1134.3" cy="853.9" r="3" fill="none" stroke="#ddd" stroke-width="0.6"/>
<rect class="dw" x="1131.8" y="824.8" width="5.2" height="6.2" stroke-width="1.1"/>
<path d="M1131.8,825 L1136.9,831" stroke="#111" stroke-width="0.9"/>
<path class="dw" d="M1132.8,876.8 V884 H1135.8 V876.8 Z" stroke-width="1"/>
<path class="dw" d="M1131.1,884 L1128.8,913 H1135.8 L1137.5,884 Z" stroke-width="1.2"/>
<path d="M1131.3,890.0 L1137.3,886.0 M1131.3,895.0 L1137.3,891.0 M1131.3,900.0 L1137.3,896.0 M1131.3,905.0 L1137.3,901.0 M1131.3,910.0 L1137.3,906.0" stroke="#111" stroke-width="1" fill="none"/>
<path class="f" d="M1141.8,878 L1144.3,885 L1143.1,885 L1143.6,900 L1141.3,899 L1140.6,885 L1139.3,885 Z"/>
<rect class="dw" x="1146.0" y="831.8" width="12.9" height="30.6" stroke-width="1.3"/>
<circle cx="1152.5" cy="839.2" r="4.9" fill="#333" stroke="#111" stroke-width="1.2"/><circle cx="1152.5" cy="839.2" r="3" fill="none" stroke="#ddd" stroke-width="0.6"/>
<circle cx="1152.5" cy="853.9" r="4.9" fill="#333" stroke="#111" stroke-width="1.2"/><circle cx="1152.5" cy="853.9" r="3" fill="none" stroke="#ddd" stroke-width="0.6"/>
<rect class="dw" x="1149.9" y="824.8" width="5.2" height="6.2" stroke-width="1.1"/>
<path d="M1149.9,825 L1155.0,831" stroke="#111" stroke-width="0.9"/>
<path class="dw" d="M1151.0,876.8 V884 H1154.0 V876.8 Z" stroke-width="1"/>
<path class="dw" d="M1149.2,884 L1148.0,913 H1154.0 L1155.7,884 Z" stroke-width="1.2"/>
<path d="M1149.5,890.0 L1155.5,886.0 M1149.5,895.0 L1155.5,891.0 M1149.5,900.0 L1155.5,896.0 M1149.5,905.0 L1155.5,901.0 M1149.5,910.0 L1155.5,906.0" stroke="#111" stroke-width="1" fill="none"/>
<path class="f" d="M1160.0,878 L1162.5,885 L1161.2,885 L1161.8,900 L1159.5,899 L1158.8,885 L1157.5,885 Z"/>
<rect class="dw" x="1163.4" y="831.8" width="12.9" height="30.6" stroke-width="1.3"/>
<circle cx="1169.8" cy="839.2" r="4.9" fill="#333" stroke="#111" stroke-width="1.2"/><circle cx="1169.8" cy="839.2" r="3" fill="none" stroke="#ddd" stroke-width="0.6"/>
<circle cx="1169.8" cy="853.9" r="4.9" fill="#333" stroke="#111" stroke-width="1.2"/><circle cx="1169.8" cy="853.9" r="3" fill="none" stroke="#ddd" stroke-width="0.6"/>
<rect class="dw" x="1167.2" y="824.8" width="5.2" height="6.2" stroke-width="1.1"/>
<path d="M1167.2,825 L1172.4,831" stroke="#111" stroke-width="0.9"/>
<path class="dw" d="M1168.3,876.8 V884 H1171.3 V876.8 Z" stroke-width="1"/>
<path class="dw" d="M1166.6,884 L1165.3,913 H1171.3 L1173.0,884 Z" stroke-width="1.2"/>
<path class="f" d="M1177.3,878 L1179.8,885 L1178.6,885 L1179.1,900 L1176.8,899 L1176.1,885 L1174.8,885 Z"/>
<text x="1133.6" y="821.4" font-size="10" font-weight="bold" text-anchor="middle" fill="#111">L</text>
<text x="1133.6" y="872.8" font-size="10" font-weight="bold" text-anchor="middle" fill="#111">L</text>
<rect x="1167.4" y="814.4" width="4.8" height="7" fill="#111"/>
<rect x="1167.4" y="865.8" width="4.8" height="7" fill="#111"/>
<circle cx="1151.9" cy="817.4" r="5.6" fill="none" stroke="#111" stroke-width="1.2"/><path d="M1147.5,815.9 H1156.3 M1148.5,817.9 H1155.3 M1151.9,817.9 V822.4" stroke="#111" stroke-width="1"/>
<circle cx="1151.9" cy="868.7" r="5.6" fill="none" stroke="#111" stroke-width="1.2"/><path d="M1147.5,867.2 H1156.3 M1148.5,869.2 H1155.3 M1151.9,869.2 V873.7" stroke="#111" stroke-width="1"/>
<path d="M1141.2,840.5 H1146 M1141.2,852.5 H1146 M1158.9,840.5 H1163.4 M1158.9,852.5 H1163.4" stroke="#111" stroke-width="1"/>
<path d="M1098.3,1043.0 L1092.4,1043.0 L1086.5,1043.1 L1080.6,1043.5 L1074.7,1044.0 L1068.9,1044.7 L1063.2,1045.5 L1057.5,1046.6 L1052.0,1047.8 L1046.7,1049.1 L1041.5,1050.6 L1036.5,1052.2 L1031.7,1054.0 L1027.1,1055.9 L1022.8,1057.9 L1018.7,1060.1 L1014.9,1062.3 L1011.4,1064.7 L1008.1,1067.1 L1005.3,1069.7 L1002.7,1072.3 L1000.4,1074.9 L998.6,1077.6 L997.0,1080.4 L995.8,1083.2 L995.0,1086.0 L994.6,1088.8 L994.5,1091.6 L994.8,1094.4 L995.4,1097.2 L996.4,1099.9 L997.8,1102.6 L999.5,1105.2 L1001.6,1107.8 L1004.0,1110.3 L1006.8,1112.7 L1009.8,1115.0 L1013.2,1117.2 L1016.9,1119.3 L1020.8,1121.3 L1025.0,1123.1 L1029.5,1124.9 L1034.2,1126.4 L1039.1,1127.8 L1044.2,1129.1 L1049.5,1130.2 L1055.0,1131.2 L1060.5,1132.0 L1066.2,1132.6" fill="none" stroke="#1a1a1a" stroke-width="6.9" stroke-linecap="round"/>
<path d="M1098.3,1043.0 L1092.4,1043.0 L1086.5,1043.1 L1080.6,1043.5 L1074.7,1044.0 L1068.9,1044.7 L1063.2,1045.5 L1057.5,1046.6 L1052.0,1047.8 L1046.7,1049.1 L1041.5,1050.6 L1036.5,1052.2 L1031.7,1054.0 L1027.1,1055.9 L1022.8,1057.9 L1018.7,1060.1 L1014.9,1062.3 L1011.4,1064.7 L1008.1,1067.1 L1005.3,1069.7 L1002.7,1072.3 L1000.4,1074.9 L998.6,1077.6 L997.0,1080.4 L995.8,1083.2 L995.0,1086.0 L994.6,1088.8 L994.5,1091.6 L994.8,1094.4 L995.4,1097.2 L996.4,1099.9 L997.8,1102.6 L999.5,1105.2 L1001.6,1107.8 L1004.0,1110.3 L1006.8,1112.7 L1009.8,1115.0 L1013.2,1117.2 L1016.9,1119.3 L1020.8,1121.3 L1025.0,1123.1 L1029.5,1124.9 L1034.2,1126.4 L1039.1,1127.8 L1044.2,1129.1 L1049.5,1130.2 L1055.0,1131.2 L1060.5,1132.0 L1066.2,1132.6" fill="none" stroke="#fff" stroke-width="5.0" stroke-linecap="round"/>
<path d="M1292.1,1081.0 L1288.7,1078.6 L1285.1,1076.4 L1281.3,1074.2 L1277.3,1072.1 L1273.2,1070.1 L1268.9,1068.2 L1264.4,1066.4 L1259.8,1064.7 L1255.0,1063.1 L1250.2,1061.7 L1245.3,1060.3 L1240.2,1059.1 L1235.1,1058.0 L1230.0,1057.0 L1224.8,1056.1 L1219.6,1055.4 L1214.4,1054.8 L1209.1,1054.4 L1203.9,1054.1 L1198.8,1054.0 L1193.7,1053.9 L1188.6,1054.1 L1183.6,1054.3 L1178.7,1054.7 L1174.0,1055.3 L1169.3,1056.0 L1164.8,1056.8 L1160.4,1057.7 L1156.1,1058.8 L1152.1,1060.0 L1148.2,1061.3 L1144.5,1062.8 L1141.0,1064.3 L1137.8,1066.0 L1134.7,1067.8 L1131.9,1069.7 L1129.3,1071.7 L1127.0,1073.7 L1124.9,1075.9 L1123.1,1078.1 L1121.5,1080.4 L1120.2,1082.8 L1119.2,1085.2 L1118.5,1087.7 L1118.0,1090.2 L1117.8,1092.8 L1117.9,1095.4 L1118.2,1098.0" fill="none" stroke="#1a1a1a" stroke-width="6.9" stroke-linecap="round"/>
<path d="M1292.1,1081.0 L1288.7,1078.6 L1285.1,1076.4 L1281.3,1074.2 L1277.3,1072.1 L1273.2,1070.1 L1268.9,1068.2 L1264.4,1066.4 L1259.8,1064.7 L1255.0,1063.1 L1250.2,1061.7 L1245.3,1060.3 L1240.2,1059.1 L1235.1,1058.0 L1230.0,1057.0 L1224.8,1056.1 L1219.6,1055.4 L1214.4,1054.8 L1209.1,1054.4 L1203.9,1054.1 L1198.8,1054.0 L1193.7,1053.9 L1188.6,1054.1 L1183.6,1054.3 L1178.7,1054.7 L1174.0,1055.3 L1169.3,1056.0 L1164.8,1056.8 L1160.4,1057.7 L1156.1,1058.8 L1152.1,1060.0 L1148.2,1061.3 L1144.5,1062.8 L1141.0,1064.3 L1137.8,1066.0 L1134.7,1067.8 L1131.9,1069.7 L1129.3,1071.7 L1127.0,1073.7 L1124.9,1075.9 L1123.1,1078.1 L1121.5,1080.4 L1120.2,1082.8 L1119.2,1085.2 L1118.5,1087.7 L1118.0,1090.2 L1117.8,1092.8 L1117.9,1095.4 L1118.2,1098.0" fill="none" stroke="#fff" stroke-width="5.0" stroke-linecap="round"/>
<path d="M1321.4,1181.8 L1324.7,1179.3 L1327.7,1176.6 L1330.4,1174.0 L1332.7,1171.2 L1334.8,1168.5 L1336.5,1165.7 L1337.9,1162.9 L1338.9,1160.1 L1339.6,1157.2 L1340.0,1154.4 L1340.0,1151.7 L1339.6,1148.9 L1338.9,1146.2 L1337.9,1143.6 L1336.5,1141.0 L1334.8,1138.5 L1332.8,1136.1 L1330.4,1133.8 L1327.7,1131.5 L1324.7,1129.4 L1321.4,1127.4 L1317.9,1125.5 L1314.0,1123.7 L1310.0,1122.1 L1305.6,1120.6 L1301.1,1119.2 L1296.3,1118.0 L1291.3,1117.0 L1286.2,1116.1 L1280.9,1115.3 L1275.5,1114.8 L1269.9,1114.4 L1264.3,1114.1 L1258.6,1114.1 L1252.8,1114.2 L1247.0,1114.4 L1241.1,1114.9 L1235.3,1115.5 L1229.5,1116.2 L1223.7,1117.2 L1218.0,1118.2 L1212.4,1119.5 L1206.9,1120.9 L1201.5,1122.4 L1196.3,1124.1 L1191.2,1125.9 L1186.3,1127.8 L1181.7,1129.8" fill="none" stroke="#1a1a1a" stroke-width="6.9" stroke-linecap="round"/>
<path d="M1321.4,1181.8 L1324.7,1179.3 L1327.7,1176.6 L1330.4,1174.0 L1332.7,1171.2 L1334.8,1168.5 L1336.5,1165.7 L1337.9,1162.9 L1338.9,1160.1 L1339.6,1157.2 L1340.0,1154.4 L1340.0,1151.7 L1339.6,1148.9 L1338.9,1146.2 L1337.9,1143.6 L1336.5,1141.0 L1334.8,1138.5 L1332.8,1136.1 L1330.4,1133.8 L1327.7,1131.5 L1324.7,1129.4 L1321.4,1127.4 L1317.9,1125.5 L1314.0,1123.7 L1310.0,1122.1 L1305.6,1120.6 L1301.1,1119.2 L1296.3,1118.0 L1291.3,1117.0 L1286.2,1116.1 L1280.9,1115.3 L1275.5,1114.8 L1269.9,1114.4 L1264.3,1114.1 L1258.6,1114.1 L1252.8,1114.2 L1247.0,1114.4 L1241.1,1114.9 L1235.3,1115.5 L1229.5,1116.2 L1223.7,1117.2 L1218.0,1118.2 L1212.4,1119.5 L1206.9,1120.9 L1201.5,1122.4 L1196.3,1124.1 L1191.2,1125.9 L1186.3,1127.8 L1181.7,1129.8" fill="none" stroke="#fff" stroke-width="5.0" stroke-linecap="round"/>
<path d="M932.2,1107.8 L928.8,1110.0 L925.8,1112.3 L923.0,1114.8 L920.6,1117.3 L918.5,1119.9 L916.8,1122.6 L915.4,1125.3 L914.3,1128.1 L913.7,1131.0 L913.3,1133.8 L913.4,1136.7 L913.8,1139.6 L914.5,1142.4 L915.7,1145.3 L917.1,1148.1 L919.0,1150.8 L921.1,1153.5 L923.6,1156.1 L926.4,1158.7 L929.5,1161.2 L933.0,1163.5 L936.7,1165.8 L940.6,1167.9 L944.8,1169.9 L949.3,1171.8 L953.9,1173.5 L958.8,1175.0 L963.8,1176.4 L969.0,1177.7 L974.3,1178.8 L979.7,1179.7 L985.2,1180.4 L990.7,1180.9 L996.3,1181.3 L1002.0,1181.4 L1007.6,1181.4 L1013.1,1181.2 L1018.7,1180.8 L1024.1,1180.3 L1029.5,1179.5 L1034.7,1178.6 L1039.8,1177.5 L1044.7,1176.2 L1049.4,1174.8 L1053.9,1173.2 L1058.2,1171.4 L1062.3,1169.6 L1066.1,1167.5" fill="none" stroke="#1a1a1a" stroke-width="6.9" stroke-linecap="round"/>
<path d="M932.2,1107.8 L928.8,1110.0 L925.8,1112.3 L923.0,1114.8 L920.6,1117.3 L918.5,1119.9 L916.8,1122.6 L915.4,1125.3 L914.3,1128.1 L913.7,1131.0 L913.3,1133.8 L913.4,1136.7 L913.8,1139.6 L914.5,1142.4 L915.7,1145.3 L917.1,1148.1 L919.0,1150.8 L921.1,1153.5 L923.6,1156.1 L926.4,1158.7 L929.5,1161.2 L933.0,1163.5 L936.7,1165.8 L940.6,1167.9 L944.8,1169.9 L949.3,1171.8 L953.9,1173.5 L958.8,1175.0 L963.8,1176.4 L969.0,1177.7 L974.3,1178.8 L979.7,1179.7 L985.2,1180.4 L990.7,1180.9 L996.3,1181.3 L1002.0,1181.4 L1007.6,1181.4 L1013.1,1181.2 L1018.7,1180.8 L1024.1,1180.3 L1029.5,1179.5 L1034.7,1178.6 L1039.8,1177.5 L1044.7,1176.2 L1049.4,1174.8 L1053.9,1173.2 L1058.2,1171.4 L1062.3,1169.6 L1066.1,1167.5" fill="none" stroke="#fff" stroke-width="5.0" stroke-linecap="round"/>
<path d="M961.0,1211.1 L963.7,1213.8 L966.6,1216.4 L969.8,1218.9 L973.1,1221.4 L976.7,1223.7 L980.4,1225.9 L984.3,1228.0 L988.3,1229.9 L992.6,1231.7 L996.9,1233.4 L1001.4,1234.9 L1005.9,1236.3 L1010.6,1237.6 L1015.4,1238.7 L1020.2,1239.6 L1025.1,1240.4 L1030.0,1241.0 L1035.0,1241.4 L1039.9,1241.7 L1044.9,1241.8 L1049.9,1241.7 L1054.8,1241.5 L1059.7,1241.1 L1064.5,1240.5 L1069.3,1239.8 L1074.0,1238.9 L1078.6,1237.9 L1083.0,1236.7 L1087.4,1235.3 L1091.6,1233.8 L1095.7,1232.2 L1099.6,1230.4 L1103.3,1228.5 L1106.9,1226.4 L1110.3,1224.2 L1113.5,1221.9 L1116.4,1219.5 L1119.2,1217.0 L1121.7,1214.4 L1124.0,1211.7 L1126.0,1209.0 L1127.8,1206.1 L1129.4,1203.2 L1130.7,1200.3 L1131.7,1197.2 L1132.5,1194.2 L1133.0,1191.1 L1133.3,1188.0" fill="none" stroke="#1a1a1a" stroke-width="6.9" stroke-linecap="round"/>
<path d="M961.0,1211.1 L963.7,1213.8 L966.6,1216.4 L969.8,1218.9 L973.1,1221.4 L976.7,1223.7 L980.4,1225.9 L984.3,1228.0 L988.3,1229.9 L992.6,1231.7 L996.9,1233.4 L1001.4,1234.9 L1005.9,1236.3 L1010.6,1237.6 L1015.4,1238.7 L1020.2,1239.6 L1025.1,1240.4 L1030.0,1241.0 L1035.0,1241.4 L1039.9,1241.7 L1044.9,1241.8 L1049.9,1241.7 L1054.8,1241.5 L1059.7,1241.1 L1064.5,1240.5 L1069.3,1239.8 L1074.0,1238.9 L1078.6,1237.9 L1083.0,1236.7 L1087.4,1235.3 L1091.6,1233.8 L1095.7,1232.2 L1099.6,1230.4 L1103.3,1228.5 L1106.9,1226.4 L1110.3,1224.2 L1113.5,1221.9 L1116.4,1219.5 L1119.2,1217.0 L1121.7,1214.4 L1124.0,1211.7 L1126.0,1209.0 L1127.8,1206.1 L1129.4,1203.2 L1130.7,1200.3 L1131.7,1197.2 L1132.5,1194.2 L1133.0,1191.1 L1133.3,1188.0" fill="none" stroke="#fff" stroke-width="5.0" stroke-linecap="round"/>
<path d="M1153.6,1250.6 L1158.9,1250.9 L1164.4,1251.0 L1169.9,1250.9 L1175.4,1250.6 L1181.0,1250.0 L1186.6,1249.2 L1192.1,1248.2 L1197.6,1247.0 L1202.9,1245.6 L1208.2,1244.0 L1213.3,1242.1 L1218.2,1240.2 L1223.0,1238.0 L1227.5,1235.7 L1231.8,1233.2 L1235.8,1230.6 L1239.5,1227.9 L1242.9,1225.1 L1246.0,1222.2 L1248.8,1219.2 L1251.2,1216.1 L1253.3,1213.0 L1254.9,1209.8 L1256.2,1206.7 L1257.1,1203.5 L1257.6,1200.4 L1257.7,1197.3 L1257.4,1194.2 L1256.8,1191.2 L1255.7,1188.3 L1254.2,1185.5 L1252.4,1182.7 L1250.2,1180.1 L1247.6,1177.7 L1244.7,1175.4 L1241.4,1173.2 L1237.9,1171.2 L1234.0,1169.4 L1229.9,1167.8 L1225.5,1166.4 L1220.8,1165.2 L1216.0,1164.2 L1211.0,1163.4 L1205.8,1162.8 L1200.5,1162.4 L1195.1,1162.3 L1189.6,1162.4 L1184.0,1162.8" fill="none" stroke="#1a1a1a" stroke-width="6.9" stroke-linecap="round"/>
<path d="M1153.6,1250.6 L1158.9,1250.9 L1164.4,1251.0 L1169.9,1250.9 L1175.4,1250.6 L1181.0,1250.0 L1186.6,1249.2 L1192.1,1248.2 L1197.6,1247.0 L1202.9,1245.6 L1208.2,1244.0 L1213.3,1242.1 L1218.2,1240.2 L1223.0,1238.0 L1227.5,1235.7 L1231.8,1233.2 L1235.8,1230.6 L1239.5,1227.9 L1242.9,1225.1 L1246.0,1222.2 L1248.8,1219.2 L1251.2,1216.1 L1253.3,1213.0 L1254.9,1209.8 L1256.2,1206.7 L1257.1,1203.5 L1257.6,1200.4 L1257.7,1197.3 L1257.4,1194.2 L1256.8,1191.2 L1255.7,1188.3 L1254.2,1185.5 L1252.4,1182.7 L1250.2,1180.1 L1247.6,1177.7 L1244.7,1175.4 L1241.4,1173.2 L1237.9,1171.2 L1234.0,1169.4 L1229.9,1167.8 L1225.5,1166.4 L1220.8,1165.2 L1216.0,1164.2 L1211.0,1163.4 L1205.8,1162.8 L1200.5,1162.4 L1195.1,1162.3 L1189.6,1162.4 L1184.0,1162.8" fill="none" stroke="#fff" stroke-width="5.0" stroke-linecap="round"/>
<g transform="translate(1067.5,1133.2) rotate(12)"><rect x="-2.5" y="-3" width="5" height="6" fill="#fff" stroke="#111" stroke-width="1"/></g>
<g transform="translate(1181.5,1130.4) rotate(-20)"><rect x="-2.5" y="-3" width="5" height="6" fill="#fff" stroke="#111" stroke-width="1"/></g>
<g transform="translate(1067.5,1167.0) rotate(-22)"><rect x="-2.5" y="-3" width="5" height="6" fill="#fff" stroke="#111" stroke-width="1"/></g>
<g transform="translate(1131.0,1184.0) rotate(95)"><rect x="-2.5" y="-3" width="5" height="6" fill="#fff" stroke="#111" stroke-width="1"/></g>
<g transform="translate(1183.0,1163.0) rotate(0)"><rect x="-2.5" y="-3" width="5" height="6" fill="#fff" stroke="#111" stroke-width="1"/></g>
<path d="M1098.4,1042.6 V1059.5 A24.5,12.6 0 0 0 1147.4,1059.5 V1042.6 Z" fill="#fff" stroke="#111" stroke-width="1.2"/>
<ellipse cx="1122.9" cy="1042.6" rx="24.5" ry="12.6" fill="#fff" stroke="#111" stroke-width="1.2"/>
<ellipse cx="1122.9" cy="1042.6" rx="22.9" ry="11.3" fill="none" stroke="#333" stroke-width="0.7" stroke-dasharray="2,1"/>
<path d="M1115.1,1032.1 Q1116.9,1035.8 1117.4,1039.8 M1125.5,1032.2 Q1127.1,1035.1 1127.7,1038.3 M1144.3,1037.7 Q1136.9,1039.5 1129.4,1038.9 M1146.5,1043.1 Q1139.2,1044.5 1131.9,1043.6 M1131.5,1053.6 Q1129.9,1049.9 1129.6,1045.9 M1120.3,1053.8 Q1118.5,1049.6 1118.1,1045.0 M1101.6,1044.6 Q1107.7,1043.4 1113.9,1044.2 M1100.5,1039.7 Q1106.8,1039.5 1112.9,1041.2" fill="none" stroke="#111" stroke-width="1"/>
<path d="M1107.9,1042.6 L1117.4,1043.1 M1128.4,1041.8 L1137.9,1042.3" stroke="#111" stroke-width="2.3" stroke-linecap="round"/>
<ellipse cx="1122.9" cy="1042.6" rx="2.8" ry="1.5" fill="#fff" stroke="#111" stroke-width="0.9"/>
<path d="M1117.4,1039.6 h2.5 M1125.9,1046.1 h2.5 M1126.9,1039.8 h2.5 M1116.9,1045.8 h2.5" stroke="#111" stroke-width="1.6"/>
<path d="M924.4,1093.6 V1110.5 A24.5,12.6 0 0 0 973.4,1110.5 V1093.6 Z" fill="#fff" stroke="#111" stroke-width="1.2"/>
<ellipse cx="948.9" cy="1093.6" rx="24.5" ry="12.6" fill="#fff" stroke="#111" stroke-width="1.2"/>
<ellipse cx="948.9" cy="1093.6" rx="22.9" ry="11.3" fill="none" stroke="#333" stroke-width="0.7" stroke-dasharray="2,1"/>
<path d="M941.1,1083.1 Q942.9,1086.8 943.4,1090.8 M951.5,1083.2 Q953.1,1086.1 953.7,1089.3 M970.3,1088.7 Q962.9,1090.5 955.4,1089.9 M972.5,1094.1 Q965.2,1095.5 957.9,1094.6 M957.5,1104.6 Q955.9,1100.9 955.6,1096.9 M946.3,1104.8 Q944.5,1100.6 944.1,1096.0 M927.6,1095.6 Q933.7,1094.4 939.9,1095.2 M926.5,1090.7 Q932.8,1090.5 938.9,1092.2" fill="none" stroke="#111" stroke-width="1"/>
<path d="M933.9,1093.6 L943.4,1094.1 M954.4,1092.8 L963.9,1093.3" stroke="#111" stroke-width="2.3" stroke-linecap="round"/>
<ellipse cx="948.9" cy="1093.6" rx="2.8" ry="1.5" fill="#fff" stroke="#111" stroke-width="0.9"/>
<path d="M943.4,1090.6 h2.5 M951.9,1097.1 h2.5 M952.9,1090.8 h2.5 M942.9,1096.8 h2.5" stroke="#111" stroke-width="1.6"/>
<path d="M1275.8,1092.2 V1109.1 A24.5,12.6 0 0 0 1324.8,1109.1 V1092.2 Z" fill="#fff" stroke="#111" stroke-width="1.2"/>
<ellipse cx="1300.3" cy="1092.2" rx="24.5" ry="12.6" fill="#fff" stroke="#111" stroke-width="1.2"/>
<ellipse cx="1300.3" cy="1092.2" rx="22.9" ry="11.3" fill="none" stroke="#333" stroke-width="0.7" stroke-dasharray="2,1"/>
<path d="M1292.5,1081.7 Q1294.3,1085.4 1294.8,1089.4 M1302.9,1081.8 Q1304.5,1084.7 1305.1,1087.9 M1321.7,1087.3 Q1314.3,1089.1 1306.8,1088.5 M1323.9,1092.7 Q1316.6,1094.1 1309.3,1093.2 M1308.9,1103.2 Q1307.3,1099.5 1307.0,1095.5 M1297.7,1103.4 Q1295.9,1099.2 1295.5,1094.6 M1279.0,1094.2 Q1285.1,1093.0 1291.3,1093.8 M1277.9,1089.3 Q1284.2,1089.1 1290.3,1090.8" fill="none" stroke="#111" stroke-width="1"/>
<path d="M1285.3,1092.2 L1294.8,1092.7 M1305.8,1091.4 L1315.3,1091.9" stroke="#111" stroke-width="2.3" stroke-linecap="round"/>
<ellipse cx="1300.3" cy="1092.2" rx="2.8" ry="1.5" fill="#fff" stroke="#111" stroke-width="0.9"/>
<path d="M1294.8,1089.2 h2.5 M1303.3,1095.7 h2.5 M1304.3,1089.4 h2.5 M1294.3,1095.4 h2.5" stroke="#111" stroke-width="1.6"/>
<path d="M927.1,1195.6 V1212.5 A24.5,12.6 0 0 0 976.1,1212.5 V1195.6 Z" fill="#fff" stroke="#111" stroke-width="1.2"/>
<ellipse cx="951.6" cy="1195.6" rx="24.5" ry="12.6" fill="#fff" stroke="#111" stroke-width="1.2"/>
<ellipse cx="951.6" cy="1195.6" rx="22.9" ry="11.3" fill="none" stroke="#333" stroke-width="0.7" stroke-dasharray="2,1"/>
<path d="M943.8,1185.1 Q945.6,1188.8 946.1,1192.8 M954.2,1185.2 Q955.8,1188.1 956.4,1191.3 M973.0,1190.7 Q965.6,1192.5 958.1,1191.9 M975.2,1196.1 Q967.9,1197.5 960.6,1196.6 M960.2,1206.6 Q958.6,1202.9 958.3,1198.9 M949.0,1206.8 Q947.2,1202.6 946.8,1198.0 M930.3,1197.6 Q936.4,1196.4 942.6,1197.2 M929.2,1192.7 Q935.5,1192.5 941.6,1194.2" fill="none" stroke="#111" stroke-width="1"/>
<path d="M936.6,1195.6 L946.1,1196.1 M957.1,1194.8 L966.6,1195.3" stroke="#111" stroke-width="2.3" stroke-linecap="round"/>
<ellipse cx="951.6" cy="1195.6" rx="2.8" ry="1.5" fill="#fff" stroke="#111" stroke-width="0.9"/>
<path d="M946.1,1192.6 h2.5 M954.6,1199.1 h2.5 M955.6,1192.8 h2.5 M945.6,1198.8 h2.5" stroke="#111" stroke-width="1.6"/>
<path d="M1278.3,1193.6 V1210.5 A24.5,12.6 0 0 0 1327.3,1210.5 V1193.6 Z" fill="#fff" stroke="#111" stroke-width="1.2"/>
<ellipse cx="1302.8" cy="1193.6" rx="24.5" ry="12.6" fill="#fff" stroke="#111" stroke-width="1.2"/>
<ellipse cx="1302.8" cy="1193.6" rx="22.9" ry="11.3" fill="none" stroke="#333" stroke-width="0.7" stroke-dasharray="2,1"/>
<path d="M1295.0,1183.1 Q1296.8,1186.8 1297.3,1190.8 M1305.4,1183.2 Q1307.0,1186.1 1307.6,1189.3 M1324.2,1188.7 Q1316.8,1190.5 1309.3,1189.9 M1326.4,1194.1 Q1319.1,1195.5 1311.8,1194.6 M1311.4,1204.6 Q1309.8,1200.9 1309.5,1196.9 M1300.2,1204.8 Q1298.4,1200.6 1298.0,1196.0 M1281.5,1195.6 Q1287.6,1194.4 1293.8,1195.2 M1280.4,1190.7 Q1286.7,1190.5 1292.8,1192.2" fill="none" stroke="#111" stroke-width="1"/>
<path d="M1287.8,1193.6 L1297.3,1194.1 M1308.3,1192.8 L1317.8,1193.3" stroke="#111" stroke-width="2.3" stroke-linecap="round"/>
<ellipse cx="1302.8" cy="1193.6" rx="2.8" ry="1.5" fill="#fff" stroke="#111" stroke-width="0.9"/>
<path d="M1297.3,1190.6 h2.5 M1305.8,1197.1 h2.5 M1306.8,1190.8 h2.5 M1296.8,1196.8 h2.5" stroke="#111" stroke-width="1.6"/>
<path d="M1104.4,1245.7 V1262.6 A24.5,12.6 0 0 0 1153.4,1262.6 V1245.7 Z" fill="#fff" stroke="#111" stroke-width="1.2"/>
<ellipse cx="1128.9" cy="1245.7" rx="24.5" ry="12.6" fill="#fff" stroke="#111" stroke-width="1.2"/>
<ellipse cx="1128.9" cy="1245.7" rx="22.9" ry="11.3" fill="none" stroke="#333" stroke-width="0.7" stroke-dasharray="2,1"/>
<path d="M1121.1,1235.2 Q1122.9,1238.9 1123.4,1242.9 M1131.5,1235.3 Q1133.1,1238.2 1133.7,1241.4 M1150.3,1240.8 Q1142.9,1242.6 1135.4,1242.0 M1152.5,1246.2 Q1145.2,1247.6 1137.9,1246.7 M1137.5,1256.7 Q1135.9,1253.0 1135.6,1249.0 M1126.3,1256.9 Q1124.5,1252.7 1124.1,1248.1 M1107.6,1247.7 Q1113.7,1246.5 1119.9,1247.3 M1106.5,1242.8 Q1112.8,1242.6 1118.9,1244.3" fill="none" stroke="#111" stroke-width="1"/>
<path d="M1113.9,1245.7 L1123.4,1246.2 M1134.4,1244.9 L1143.9,1245.4" stroke="#111" stroke-width="2.3" stroke-linecap="round"/>
<ellipse cx="1128.9" cy="1245.7" rx="2.8" ry="1.5" fill="#fff" stroke="#111" stroke-width="0.9"/>
<path d="M1123.4,1242.7 h2.5 M1131.9,1249.2 h2.5 M1132.9,1242.9 h2.5 M1122.9,1248.9 h2.5" stroke="#111" stroke-width="1.6"/>
<path d="M1102.5,1109.2 V1157.3 A23.4,11.3 0 0 0 1149.3,1157.3 V1109.2 Z" fill="#fff" stroke="#111" stroke-width="1.3"/>
<ellipse cx="1125.9" cy="1109.2" rx="23.4" ry="11.3" fill="#fff" stroke="#111" stroke-width="1.3"/>
<path d="M1070,1133.5 L1102.5,1137.5 M1179,1131 L1149.3,1140.3 M1070,1166 L1108.2,1150.2 M1129.8,1181 L1125.2,1151 M1186,1163 L1143.1,1150.8" stroke="#111" stroke-width="1.7" fill="none"/>
<circle cx="1108.2" cy="1150.6" r="2.2" fill="#fff" stroke="#111" stroke-width="0.9"/>
<circle cx="1125.2" cy="1150.6" r="2.2" fill="#fff" stroke="#111" stroke-width="0.9"/>
<circle cx="1143.1" cy="1150.6" r="2.2" fill="#fff" stroke="#111" stroke-width="0.9"/>
<path d="M1072,1172 C1085,1172 1100,1170 1120,1165 M1072,1175 C1090,1176 1105,1173 1124,1166 M1074,1178 C1092,1180 1110,1176 1126,1168" fill="none" stroke="#2222cc" stroke-width="0.8"/>
<path d="M1072,1177 C1088,1182 1108,1180 1127,1168 M1074,1181 C1092,1185 1112,1182 1128,1170 M1076,1183 C1095,1187 1112,1183 1129,1172" fill="none" stroke="#d42222" stroke-width="0.8"/>
<path d="M1067,1170 C1070,1167 1076,1166 1080,1170 C1078,1174 1072,1175 1067,1170 Z M1076,1166 C1080,1162 1087,1162 1090,1166 C1087,1170 1081,1170 1076,1166 Z" fill="#111"/>
<path d="M1074.2,1185.6 L1068,1200 M1068,1200 L1062,1203 M1068,1200 L1070,1205" stroke="#111" stroke-width="1.2" fill="none"/>
<text x="1094" y="1171" font-size="11" fill="#888">N</text><text x="1076" y="1194" font-size="11" fill="#888">L</text>
<path d="M1140.1,1206 A23.9,13.2 0 0 0 1187.9,1206" fill="none" stroke="#111" stroke-width="1.2"/>
<path d="M1141.5,1205 A22.5,11.5 0 0 0 1186.5,1205" fill="none" stroke="#111" stroke-width="1.1"/>
<path d="M1140.1,1206 Q1140.5,1199 1144,1197 M1187.9,1206 Q1187.5,1199 1184,1197" fill="none" stroke="#111" stroke-width="1.1"/>
<ellipse cx="1164" cy="1202.6" rx="20.9" ry="10.6" fill="#fff" stroke="#111" stroke-width="1.3"/>
<path d="M1143.5,1204 A20.9,10.6 0 0 0 1184.5,1204" fill="none" stroke="#111" stroke-width="1.8"/>
<path d="M1196.5,1238 V1204 M1196.5,1203.9 L1190.7,1217.3 M1196.5,1203.9 L1202,1217.3" stroke="#111" stroke-width="1" fill="none"/>
<path d="M1281.6,1249.7 V1260 A26,6.9 0 0 0 1333.5,1260 V1249.7" fill="#fff" stroke="#111" stroke-width="1.4"/>
<path d="M1281.3,1250 C1284,1244 1295,1241.5 1306.9,1241.6 C1320,1241.7 1331,1244 1333.5,1248.5 L1332,1251 C1325,1248 1316,1246.6 1306.9,1246.6 C1296,1246.7 1287,1248.5 1282.5,1252.5 Z" fill="#111"/>
<ellipse cx="1307.5" cy="1260" rx="26" ry="6.9" fill="#fff" stroke="#111" stroke-width="1.4"/>
<path d="M1282.5,1281 C1276,1284 1278,1289.5 1290,1291 C1300,1292.3 1318,1292.3 1330,1289.5 C1341,1287 1342,1282 1334,1280" fill="none" stroke="#111" stroke-width="1.4"/>
<path d="M1329.1,1278.8 L1338,1277.3 M1329.1,1278.8 L1335,1283.7" stroke="#111" stroke-width="1.4"/>
<path d="M1085.5,1824.8 H1324.1 M1104,1895.3 H1324.1" stroke="#222" stroke-width="1.1" fill="none"/>
<path class="f" d="M1320.1,1826 L1323.7,1859.6 H1316.5 Z M1320.1,1892.9 L1323.7,1859.6 H1316.5 Z"/>
<text transform="translate(1332.6,1838) rotate(90)" class="t" stroke="#2a2826" stroke-width="0.7" font-size="22" textLength="45" lengthAdjust="spacingAndGlyphs">9 cm</text>
<path d="M891.6,1905 V2028 M1287.2,1850 V2028" stroke="#111" stroke-width="1.3" fill="none"/>
<path d="M905,2024.8 H1274" stroke="#111" stroke-width="1.3"/>
<path class="f" d="M891.6,2024.8 L927,2021.6 V2028 Z M1287.2,2024.8 L1252,2021.6 V2028 Z"/>
<text x="1062.5" y="2016.2" class="t" stroke="#2a2826" stroke-width="0.7" font-size="19" textLength="58.5" lengthAdjust="spacingAndGlyphs">61 cm</text>
<path d="M987.4,1801.9 L991.9,1800.0 L996.6,1798.3 L1001.5,1796.8 L1006.5,1795.4 L1011.7,1794.2 L1017.1,1793.1 L1022.5,1792.2 L1028.0,1791.5 L1033.6,1791.0 L1039.2,1790.6 L1044.8,1790.5 L1050.4,1790.5 L1056.0,1790.7 L1061.6,1791.0 L1067.0,1791.6 L1072.4,1792.3 L1077.6,1793.2 L1082.8,1794.3 L1087.7,1795.5 L1092.5,1796.9 L1097.1,1798.4 L1101.4,1800.1 L1105.6,1802.0 L1109.5,1804.0 L1113.1,1806.1 L1116.4,1808.3 L1119.5,1810.6 L1122.2,1813.1 L1124.6,1815.6 L1126.7,1818.2 L1128.5,1820.9 L1129.9,1823.6 L1131.0,1826.4 L1131.7,1829.2 L1132.1,1832.1 L1132.1,1834.9 L1131.7,1837.8 L1131.0,1840.7 L1130.0,1843.5 L1128.6,1846.3 L1126.9,1849.1 L1124.8,1851.8 L1122.4,1854.5 L1119.7,1857.0 L1116.7,1859.5 L1113.3,1861.9 L1109.7,1864.2 L1105.9,1866.4" fill="none" stroke="#1a1a1a" stroke-width="6.3" stroke-linecap="round"/>
<path d="M987.4,1801.9 L991.9,1800.0 L996.6,1798.3 L1001.5,1796.8 L1006.5,1795.4 L1011.7,1794.2 L1017.1,1793.1 L1022.5,1792.2 L1028.0,1791.5 L1033.6,1791.0 L1039.2,1790.6 L1044.8,1790.5 L1050.4,1790.5 L1056.0,1790.7 L1061.6,1791.0 L1067.0,1791.6 L1072.4,1792.3 L1077.6,1793.2 L1082.8,1794.3 L1087.7,1795.5 L1092.5,1796.9 L1097.1,1798.4 L1101.4,1800.1 L1105.6,1802.0 L1109.5,1804.0 L1113.1,1806.1 L1116.4,1808.3 L1119.5,1810.6 L1122.2,1813.1 L1124.6,1815.6 L1126.7,1818.2 L1128.5,1820.9 L1129.9,1823.6 L1131.0,1826.4 L1131.7,1829.2 L1132.1,1832.1 L1132.1,1834.9 L1131.7,1837.8 L1131.0,1840.7 L1130.0,1843.5 L1128.6,1846.3 L1126.9,1849.1 L1124.8,1851.8 L1122.4,1854.5 L1119.7,1857.0 L1116.7,1859.5 L1113.3,1861.9 L1109.7,1864.2 L1105.9,1866.4" fill="none" stroke="#fff" stroke-width="3.2" stroke-linecap="round"/>
<path d="M909.8,1881.0 L909.1,1878.5 L908.9,1876.0 L908.9,1873.5 L909.3,1870.9 L910.0,1868.4 L911.1,1866.0 L912.5,1863.5 L914.3,1861.1 L916.4,1858.8 L918.8,1856.5 L921.5,1854.3 L924.5,1852.1 L927.8,1850.1 L931.3,1848.1 L935.1,1846.3 L939.2,1844.5 L943.5,1842.9 L947.9,1841.4 L952.6,1840.1 L957.5,1838.9 L962.5,1837.8 L967.7,1836.8 L972.9,1836.0 L978.3,1835.4 L983.7,1834.9 L989.2,1834.6 L994.7,1834.4 L1000.3,1834.4 L1005.8,1834.6 L1011.3,1834.9 L1016.7,1835.3 L1022.0,1836.0 L1027.3,1836.7 L1032.4,1837.6 L1037.4,1838.7 L1042.2,1839.9 L1046.9,1841.2 L1051.4,1842.7 L1055.6,1844.3 L1059.7,1846.0 L1063.4,1847.9 L1066.9,1849.8 L1070.2,1851.8 L1073.2,1853.9 L1075.8,1856.2 L1078.2,1858.4 L1080.2,1860.8 L1081.9,1863.2" fill="none" stroke="#1a1a1a" stroke-width="6.3" stroke-linecap="round"/>
<path d="M909.8,1881.0 L909.1,1878.5 L908.9,1876.0 L908.9,1873.5 L909.3,1870.9 L910.0,1868.4 L911.1,1866.0 L912.5,1863.5 L914.3,1861.1 L916.4,1858.8 L918.8,1856.5 L921.5,1854.3 L924.5,1852.1 L927.8,1850.1 L931.3,1848.1 L935.1,1846.3 L939.2,1844.5 L943.5,1842.9 L947.9,1841.4 L952.6,1840.1 L957.5,1838.9 L962.5,1837.8 L967.7,1836.8 L972.9,1836.0 L978.3,1835.4 L983.7,1834.9 L989.2,1834.6 L994.7,1834.4 L1000.3,1834.4 L1005.8,1834.6 L1011.3,1834.9 L1016.7,1835.3 L1022.0,1836.0 L1027.3,1836.7 L1032.4,1837.6 L1037.4,1838.7 L1042.2,1839.9 L1046.9,1841.2 L1051.4,1842.7 L1055.6,1844.3 L1059.7,1846.0 L1063.4,1847.9 L1066.9,1849.8 L1070.2,1851.8 L1073.2,1853.9 L1075.8,1856.2 L1078.2,1858.4 L1080.2,1860.8 L1081.9,1863.2" fill="none" stroke="#fff" stroke-width="3.2" stroke-linecap="round"/>
<path d="M1165.8,1796.9 L1171.1,1798.6 L1176.3,1800.4 L1181.3,1802.4 L1186.0,1804.4 L1190.6,1806.5 L1194.9,1808.7 L1199.0,1811.0 L1202.8,1813.4 L1206.3,1815.8 L1209.6,1818.3 L1212.5,1820.8 L1215.2,1823.4 L1217.5,1826.0 L1219.5,1828.6 L1221.2,1831.2 L1222.5,1833.9 L1223.5,1836.5 L1224.2,1839.2 L1224.5,1841.8 L1224.5,1844.4 L1224.1,1846.9 L1223.4,1849.4 L1222.3,1851.9 L1220.9,1854.3 L1219.2,1856.6 L1217.1,1858.8 L1214.7,1861.0 L1212.0,1863.1 L1209.0,1865.0 L1205.7,1866.9 L1202.1,1868.7 L1198.3,1870.3 L1194.2,1871.9 L1189.8,1873.3 L1185.2,1874.5 L1180.4,1875.7 L1175.4,1876.7 L1170.2,1877.5 L1164.8,1878.3 L1159.3,1878.8 L1153.6,1879.3 L1147.8,1879.5 L1141.9,1879.7 L1136.0,1879.6 L1130.0,1879.5 L1123.9,1879.1 L1117.8,1878.7 L1111.8,1878.0" fill="none" stroke="#1a1a1a" stroke-width="6.3" stroke-linecap="round"/>
<path d="M1165.8,1796.9 L1171.1,1798.6 L1176.3,1800.4 L1181.3,1802.4 L1186.0,1804.4 L1190.6,1806.5 L1194.9,1808.7 L1199.0,1811.0 L1202.8,1813.4 L1206.3,1815.8 L1209.6,1818.3 L1212.5,1820.8 L1215.2,1823.4 L1217.5,1826.0 L1219.5,1828.6 L1221.2,1831.2 L1222.5,1833.9 L1223.5,1836.5 L1224.2,1839.2 L1224.5,1841.8 L1224.5,1844.4 L1224.1,1846.9 L1223.4,1849.4 L1222.3,1851.9 L1220.9,1854.3 L1219.2,1856.6 L1217.1,1858.8 L1214.7,1861.0 L1212.0,1863.1 L1209.0,1865.0 L1205.7,1866.9 L1202.1,1868.7 L1198.3,1870.3 L1194.2,1871.9 L1189.8,1873.3 L1185.2,1874.5 L1180.4,1875.7 L1175.4,1876.7 L1170.2,1877.5 L1164.8,1878.3 L1159.3,1878.8 L1153.6,1879.3 L1147.8,1879.5 L1141.9,1879.7 L1136.0,1879.6 L1130.0,1879.5 L1123.9,1879.1 L1117.8,1878.7 L1111.8,1878.0" fill="none" stroke="#fff" stroke-width="3.2" stroke-linecap="round"/>
<path d="M1267.0,1880.0 L1268.0,1882.1 L1268.8,1884.1 L1269.2,1886.2 L1269.4,1888.2 L1269.2,1890.2 L1268.8,1892.2 L1268.1,1894.1 L1267.1,1896.0 L1265.7,1897.8 L1264.1,1899.6 L1262.3,1901.4 L1260.1,1903.0 L1257.7,1904.6 L1255.0,1906.1 L1252.1,1907.5 L1248.9,1908.9 L1245.5,1910.1 L1241.9,1911.2 L1238.1,1912.3 L1234.1,1913.2 L1229.9,1914.1 L1225.5,1914.8 L1221.0,1915.4 L1216.3,1915.9 L1211.5,1916.3 L1206.6,1916.6 L1201.6,1916.8 L1196.6,1916.8 L1191.4,1916.7 L1186.2,1916.5 L1181.0,1916.2 L1175.8,1915.8 L1170.6,1915.3 L1165.4,1914.6 L1160.2,1913.9 L1155.1,1913.0 L1150.1,1912.0 L1145.1,1911.0 L1140.3,1909.8 L1135.6,1908.5 L1131.0,1907.2 L1126.5,1905.7 L1122.3,1904.2 L1118.2,1902.6 L1114.2,1900.9 L1110.5,1899.2 L1107.0,1897.4 L1103.8,1895.5" fill="none" stroke="#1a1a1a" stroke-width="6.3" stroke-linecap="round"/>
<path d="M1267.0,1880.0 L1268.0,1882.1 L1268.8,1884.1 L1269.2,1886.2 L1269.4,1888.2 L1269.2,1890.2 L1268.8,1892.2 L1268.1,1894.1 L1267.1,1896.0 L1265.7,1897.8 L1264.1,1899.6 L1262.3,1901.4 L1260.1,1903.0 L1257.7,1904.6 L1255.0,1906.1 L1252.1,1907.5 L1248.9,1908.9 L1245.5,1910.1 L1241.9,1911.2 L1238.1,1912.3 L1234.1,1913.2 L1229.9,1914.1 L1225.5,1914.8 L1221.0,1915.4 L1216.3,1915.9 L1211.5,1916.3 L1206.6,1916.6 L1201.6,1916.8 L1196.6,1916.8 L1191.4,1916.7 L1186.2,1916.5 L1181.0,1916.2 L1175.8,1915.8 L1170.6,1915.3 L1165.4,1914.6 L1160.2,1913.9 L1155.1,1913.0 L1150.1,1912.0 L1145.1,1911.0 L1140.3,1909.8 L1135.6,1908.5 L1131.0,1907.2 L1126.5,1905.7 L1122.3,1904.2 L1118.2,1902.6 L1114.2,1900.9 L1110.5,1899.2 L1107.0,1897.4 L1103.8,1895.5" fill="none" stroke="#fff" stroke-width="3.2" stroke-linecap="round"/>
<path d="M1014.7,1954.0 L1009.4,1953.3 L1004.3,1952.4 L999.3,1951.3 L994.5,1950.1 L990.0,1948.7 L985.6,1947.2 L981.5,1945.5 L977.6,1943.6 L974.0,1941.7 L970.7,1939.6 L967.7,1937.4 L965.0,1935.1 L962.6,1932.7 L960.6,1930.2 L958.9,1927.6 L957.5,1925.0 L956.5,1922.3 L955.9,1919.5 L955.6,1916.8 L955.7,1914.0 L956.1,1911.2 L956.9,1908.4 L958.1,1905.6 L959.6,1902.8 L961.4,1900.1 L963.6,1897.4 L966.1,1894.8 L968.9,1892.2 L972.1,1889.8 L975.5,1887.4 L979.2,1885.1 L983.2,1882.9 L987.4,1880.9 L991.9,1878.9 L996.6,1877.1 L1001.4,1875.5 L1006.4,1874.0 L1011.6,1872.6 L1017.0,1871.4 L1022.4,1870.4 L1027.9,1869.5 L1033.5,1868.8 L1039.1,1868.3 L1044.7,1867.9 L1050.4,1867.8 L1056.0,1867.8 L1061.5,1868.0 L1067.0,1868.4" fill="none" stroke="#1a1a1a" stroke-width="6.3" stroke-linecap="round"/>
<path d="M1014.7,1954.0 L1009.4,1953.3 L1004.3,1952.4 L999.3,1951.3 L994.5,1950.1 L990.0,1948.7 L985.6,1947.2 L981.5,1945.5 L977.6,1943.6 L974.0,1941.7 L970.7,1939.6 L967.7,1937.4 L965.0,1935.1 L962.6,1932.7 L960.6,1930.2 L958.9,1927.6 L957.5,1925.0 L956.5,1922.3 L955.9,1919.5 L955.6,1916.8 L955.7,1914.0 L956.1,1911.2 L956.9,1908.4 L958.1,1905.6 L959.6,1902.8 L961.4,1900.1 L963.6,1897.4 L966.1,1894.8 L968.9,1892.2 L972.1,1889.8 L975.5,1887.4 L979.2,1885.1 L983.2,1882.9 L987.4,1880.9 L991.9,1878.9 L996.6,1877.1 L1001.4,1875.5 L1006.4,1874.0 L1011.6,1872.6 L1017.0,1871.4 L1022.4,1870.4 L1027.9,1869.5 L1033.5,1868.8 L1039.1,1868.3 L1044.7,1867.9 L1050.4,1867.8 L1056.0,1867.8 L1061.5,1868.0 L1067.0,1868.4" fill="none" stroke="#fff" stroke-width="3.2" stroke-linecap="round"/>
<path d="M1186.3,1947.6 L1181.8,1949.0 L1177.2,1950.2 L1172.4,1951.2 L1167.5,1952.2 L1162.5,1953.0 L1157.4,1953.7 L1152.3,1954.2 L1147.1,1954.6 L1141.8,1954.9 L1136.6,1955.0 L1131.3,1955.0 L1126.1,1954.8 L1120.9,1954.5 L1115.7,1954.0 L1110.7,1953.5 L1105.7,1952.7 L1100.8,1951.9 L1096.1,1950.9 L1091.5,1949.8 L1087.0,1948.5 L1082.7,1947.2 L1078.7,1945.7 L1074.8,1944.1 L1071.1,1942.4 L1067.7,1940.6 L1064.5,1938.7 L1061.5,1936.8 L1058.8,1934.7 L1056.4,1932.6 L1054.2,1930.4 L1052.4,1928.2 L1050.8,1925.9 L1049.5,1923.6 L1048.6,1921.2 L1047.9,1918.8 L1047.6,1916.4 L1047.5,1914.0 L1047.8,1911.6 L1048.4,1909.2 L1049.3,1906.8 L1050.4,1904.4 L1051.9,1902.1 L1053.7,1899.8 L1055.8,1897.5 L1058.1,1895.4 L1060.7,1893.2 L1063.6,1891.2 L1066.8,1889.2" fill="none" stroke="#1a1a1a" stroke-width="6.3" stroke-linecap="round"/>
<path d="M1186.3,1947.6 L1181.8,1949.0 L1177.2,1950.2 L1172.4,1951.2 L1167.5,1952.2 L1162.5,1953.0 L1157.4,1953.7 L1152.3,1954.2 L1147.1,1954.6 L1141.8,1954.9 L1136.6,1955.0 L1131.3,1955.0 L1126.1,1954.8 L1120.9,1954.5 L1115.7,1954.0 L1110.7,1953.5 L1105.7,1952.7 L1100.8,1951.9 L1096.1,1950.9 L1091.5,1949.8 L1087.0,1948.5 L1082.7,1947.2 L1078.7,1945.7 L1074.8,1944.1 L1071.1,1942.4 L1067.7,1940.6 L1064.5,1938.7 L1061.5,1936.8 L1058.8,1934.7 L1056.4,1932.6 L1054.2,1930.4 L1052.4,1928.2 L1050.8,1925.9 L1049.5,1923.6 L1048.6,1921.2 L1047.9,1918.8 L1047.6,1916.4 L1047.5,1914.0 L1047.8,1911.6 L1048.4,1909.2 L1049.3,1906.8 L1050.4,1904.4 L1051.9,1902.1 L1053.7,1899.8 L1055.8,1897.5 L1058.1,1895.4 L1060.7,1893.2 L1063.6,1891.2 L1066.8,1889.2" fill="none" stroke="#fff" stroke-width="3.2" stroke-linecap="round"/>
<path d="M944.4,1803.4 A23.4,11.1 0 0 1 991.2,1803.4 V1823.3 A23.4,11.7 0 0 1 944.4,1823.3 Z" fill="#fff" stroke="#111" stroke-width="1.5"/>
<ellipse cx="967.8" cy="1823.3" rx="23.4" ry="11.7" fill="#fff" stroke="#111" stroke-width="1.5"/>
<path d="M944.7,1820.5 A23.1,11.7 0 0 1 990.9,1820.5" fill="none" stroke="#111" stroke-width="1.1"/>
<path d="M1118.6,1783.4 A23.4,11.1 0 0 1 1165.4,1783.4 V1803.3 A23.4,11.7 0 0 1 1118.6,1803.3 Z" fill="#fff" stroke="#111" stroke-width="1.5"/>
<ellipse cx="1142.0" cy="1803.3" rx="23.4" ry="11.7" fill="#fff" stroke="#111" stroke-width="1.5"/>
<path d="M1118.9,1800.5 A23.1,11.7 0 0 1 1165.1,1800.5" fill="none" stroke="#111" stroke-width="1.1"/>
<path d="M1239.6,1849.6 A23.4,11.1 0 0 1 1286.4,1849.6 V1869.5 A23.4,11.7 0 0 1 1239.6,1869.5 Z" fill="#fff" stroke="#111" stroke-width="1.5"/>
<ellipse cx="1263.0" cy="1869.5" rx="23.4" ry="11.7" fill="#fff" stroke="#111" stroke-width="1.5"/>
<path d="M1239.9,1866.7 A23.1,11.7 0 0 1 1286.1,1866.7" fill="none" stroke="#111" stroke-width="1.1"/>
<path d="M892.1,1889.6 A23.4,11.1 0 0 1 938.9,1889.6 V1909.5 A23.4,11.7 0 0 1 892.1,1909.5 Z" fill="#fff" stroke="#111" stroke-width="1.5"/>
<ellipse cx="915.5" cy="1909.5" rx="23.4" ry="11.7" fill="#fff" stroke="#111" stroke-width="1.5"/>
<path d="M892.4,1906.7 A23.1,11.7 0 0 1 938.6,1906.7" fill="none" stroke="#111" stroke-width="1.1"/>
<path d="M1013.6,1951.2 A23.4,11.1 0 0 1 1060.4,1951.2 V1971.1 A23.4,11.7 0 0 1 1013.6,1971.1 Z" fill="#fff" stroke="#111" stroke-width="1.5"/>
<ellipse cx="1037.0" cy="1971.1" rx="23.4" ry="11.7" fill="#fff" stroke="#111" stroke-width="1.5"/>
<path d="M1013.9,1968.3 A23.1,11.7 0 0 1 1060.1,1968.3" fill="none" stroke="#111" stroke-width="1.1"/>
<path d="M1187.2,1934.3 A23.4,11.1 0 0 1 1234.0,1934.3 V1954.2 A23.4,11.7 0 0 1 1187.2,1954.2 Z" fill="#fff" stroke="#111" stroke-width="1.5"/>
<ellipse cx="1210.6" cy="1954.2" rx="23.4" ry="11.7" fill="#fff" stroke="#111" stroke-width="1.5"/>
<path d="M1187.5,1951.4 A23.1,11.7 0 0 1 1233.7,1951.4" fill="none" stroke="#111" stroke-width="1.1"/>
<path d="M1066.4,1835 A22.8,10 0 0 1 1112,1835 V1884.1 H1066.4 Z" fill="#fff" stroke="#111" stroke-width="1.5"/>
<ellipse cx="1089.2" cy="1884.1" rx="22.8" ry="10.8" fill="#fff" stroke="#111" stroke-width="1.5"/>
<path d="M1132.1,1832.6 L1132.1,1834.9 L1131.8,1837.2 L1131.4,1839.5 L1130.7,1841.8 L1129.7,1844.1 L1128.6,1846.3 L1127.2,1848.5 L1125.7,1850.7 L1123.9,1852.9 L1121.9,1855.0 L1119.7,1857.0 L1117.3,1859.0 L1114.7,1861.0 L1111.9,1862.8 L1109.0,1864.7 L1105.9,1866.4" fill="none" stroke="#1a1a1a" stroke-width="6.3" stroke-linecap="round"/>
<path d="M1132.1,1832.6 L1132.1,1834.9 L1131.8,1837.2 L1131.4,1839.5 L1130.7,1841.8 L1129.7,1844.1 L1128.6,1846.3 L1127.2,1848.5 L1125.7,1850.7 L1123.9,1852.9 L1121.9,1855.0 L1119.7,1857.0 L1117.3,1859.0 L1114.7,1861.0 L1111.9,1862.8 L1109.0,1864.7 L1105.9,1866.4" fill="none" stroke="#fff" stroke-width="3.2" stroke-linecap="round"/>
<path d="M1038.4,1838.9 L1042.2,1839.9 L1046.0,1841.0 L1049.6,1842.1 L1053.1,1843.3 L1056.5,1844.6 L1059.7,1846.0 L1062.7,1847.5 L1065.6,1849.0 L1068.3,1850.6 L1070.8,1852.2 L1073.2,1853.9 L1075.3,1855.7 L1077.3,1857.5 L1079.0,1859.4 L1080.6,1861.2 L1081.9,1863.2" fill="none" stroke="#1a1a1a" stroke-width="6.3" stroke-linecap="round"/>
<path d="M1038.4,1838.9 L1042.2,1839.9 L1046.0,1841.0 L1049.6,1842.1 L1053.1,1843.3 L1056.5,1844.6 L1059.7,1846.0 L1062.7,1847.5 L1065.6,1849.0 L1068.3,1850.6 L1070.8,1852.2 L1073.2,1853.9 L1075.3,1855.7 L1077.3,1857.5 L1079.0,1859.4 L1080.6,1861.2 L1081.9,1863.2" fill="none" stroke="#fff" stroke-width="3.2" stroke-linecap="round"/>
<path d="M681.00,1874.00h21.62v3.09h-21.62zM714.97,1874.00h3.09v3.09h-3.09zM730.41,1874.00h6.18v3.09h-6.18zM739.67,1874.00h12.35v3.09h-12.35zM755.11,1874.00h3.09v3.09h-3.09zM761.29,1874.00h21.62v3.09h-21.62zM681.00,1877.09h3.09v3.09h-3.09zM699.53,1877.09h3.09v3.09h-3.09zM705.70,1877.09h3.09v3.09h-3.09zM711.88,1877.09h9.26v3.09h-9.26zM727.32,1877.09h9.26v3.09h-9.26zM739.67,1877.09h3.09v3.09h-3.09zM748.94,1877.09h3.09v3.09h-3.09zM761.29,1877.09h3.09v3.09h-3.09zM779.82,1877.09h3.09v3.09h-3.09zM681.00,1880.18h3.09v3.09h-3.09zM687.18,1880.18h9.26v3.09h-9.26zM699.53,1880.18h3.09v3.09h-3.09zM705.70,1880.18h3.09v3.09h-3.09zM718.06,1880.18h3.09v3.09h-3.09zM727.32,1880.18h3.09v3.09h-3.09zM733.50,1880.18h18.53v3.09h-18.53zM755.11,1880.18h3.09v3.09h-3.09zM761.29,1880.18h3.09v3.09h-3.09zM767.46,1880.18h9.26v3.09h-9.26zM779.82,1880.18h3.09v3.09h-3.09zM681.00,1883.26h3.09v3.09h-3.09zM687.18,1883.26h9.26v3.09h-9.26zM699.53,1883.26h3.09v3.09h-3.09zM705.70,1883.26h9.26v3.09h-9.26zM718.06,1883.26h12.35v3.09h-12.35zM733.50,1883.26h6.18v3.09h-6.18zM742.76,1883.26h12.35v3.09h-12.35zM761.29,1883.26h3.09v3.09h-3.09zM767.46,1883.26h9.26v3.09h-9.26zM779.82,1883.26h3.09v3.09h-3.09zM681.00,1886.35h3.09v3.09h-3.09zM687.18,1886.35h9.26v3.09h-9.26zM699.53,1886.35h3.09v3.09h-3.09zM705.70,1886.35h9.26v3.09h-9.26zM718.06,1886.35h6.18v3.09h-6.18zM730.41,1886.35h3.09v3.09h-3.09zM739.67,1886.35h15.44v3.09h-15.44zM761.29,1886.35h3.09v3.09h-3.09zM767.46,1886.35h9.26v3.09h-9.26zM779.82,1886.35h3.09v3.09h-3.09zM681.00,1889.44h3.09v3.09h-3.09zM699.53,1889.44h3.09v3.09h-3.09zM705.70,1889.44h6.18v3.09h-6.18zM727.32,1889.44h6.18v3.09h-6.18zM739.67,1889.44h3.09v3.09h-3.09zM752.02,1889.44h3.09v3.09h-3.09zM761.29,1889.44h3.09v3.09h-3.09zM779.82,1889.44h3.09v3.09h-3.09zM681.00,1892.53h21.62v3.09h-21.62zM705.70,1892.53h3.09v3.09h-3.09zM711.88,1892.53h3.09v3.09h-3.09zM718.06,1892.53h3.09v3.09h-3.09zM724.23,1892.53h3.09v3.09h-3.09zM730.41,1892.53h3.09v3.09h-3.09zM736.58,1892.53h3.09v3.09h-3.09zM742.76,1892.53h3.09v3.09h-3.09zM748.94,1892.53h3.09v3.09h-3.09zM755.11,1892.53h3.09v3.09h-3.09zM761.29,1892.53h21.62v3.09h-21.62zM708.79,1895.62h9.26v3.09h-9.26zM721.14,1895.62h3.09v3.09h-3.09zM727.32,1895.62h3.09v3.09h-3.09zM742.76,1895.62h3.09v3.09h-3.09zM752.02,1895.62h6.18v3.09h-6.18zM687.18,1898.70h3.09v3.09h-3.09zM696.44,1898.70h21.62v3.09h-21.62zM724.23,1898.70h6.18v3.09h-6.18zM733.50,1898.70h6.18v3.09h-6.18zM742.76,1898.70h3.09v3.09h-3.09zM748.94,1898.70h3.09v3.09h-3.09zM758.20,1898.70h3.09v3.09h-3.09zM764.38,1898.70h15.44v3.09h-15.44zM681.00,1901.79h18.53v3.09h-18.53zM711.88,1901.79h3.09v3.09h-3.09zM718.06,1901.79h3.09v3.09h-3.09zM727.32,1901.79h3.09v3.09h-3.09zM733.50,1901.79h3.09v3.09h-3.09zM739.67,1901.79h3.09v3.09h-3.09zM748.94,1901.79h6.18v3.09h-6.18zM758.20,1901.79h9.26v3.09h-9.26zM770.55,1901.79h6.18v3.09h-6.18zM779.82,1901.79h3.09v3.09h-3.09zM690.26,1904.88h6.18v3.09h-6.18zM699.53,1904.88h15.44v3.09h-15.44zM718.06,1904.88h3.09v3.09h-3.09zM724.23,1904.88h3.09v3.09h-3.09zM730.41,1904.88h3.09v3.09h-3.09zM745.85,1904.88h15.44v3.09h-15.44zM764.38,1904.88h9.26v3.09h-9.26zM779.82,1904.88h3.09v3.09h-3.09zM687.18,1907.97h9.26v3.09h-9.26zM711.88,1907.97h3.09v3.09h-3.09zM739.67,1907.97h6.18v3.09h-6.18zM748.94,1907.97h3.09v3.09h-3.09zM755.11,1907.97h3.09v3.09h-3.09zM764.38,1907.97h3.09v3.09h-3.09zM770.55,1907.97h3.09v3.09h-3.09zM681.00,1911.06h6.18v3.09h-6.18zM693.35,1911.06h9.26v3.09h-9.26zM705.70,1911.06h3.09v3.09h-3.09zM711.88,1911.06h9.26v3.09h-9.26zM724.23,1911.06h9.26v3.09h-9.26zM736.58,1911.06h6.18v3.09h-6.18zM745.85,1911.06h9.26v3.09h-9.26zM761.29,1911.06h3.09v3.09h-3.09zM767.46,1911.06h3.09v3.09h-3.09zM684.09,1914.14h12.35v3.09h-12.35zM702.62,1914.14h3.09v3.09h-3.09zM708.79,1914.14h6.18v3.09h-6.18zM724.23,1914.14h9.26v3.09h-9.26zM736.58,1914.14h6.18v3.09h-6.18zM745.85,1914.14h18.53v3.09h-18.53zM770.55,1914.14h3.09v3.09h-3.09zM779.82,1914.14h3.09v3.09h-3.09zM681.00,1917.23h3.09v3.09h-3.09zM687.18,1917.23h21.62v3.09h-21.62zM711.88,1917.23h3.09v3.09h-3.09zM718.06,1917.23h6.18v3.09h-6.18zM733.50,1917.23h6.18v3.09h-6.18zM752.02,1917.23h3.09v3.09h-3.09zM767.46,1917.23h3.09v3.09h-3.09zM779.82,1917.23h3.09v3.09h-3.09zM687.18,1920.32h3.09v3.09h-3.09zM693.35,1920.32h3.09v3.09h-3.09zM702.62,1920.32h12.35v3.09h-12.35zM718.06,1920.32h3.09v3.09h-3.09zM724.23,1920.32h3.09v3.09h-3.09zM730.41,1920.32h6.18v3.09h-6.18zM742.76,1920.32h3.09v3.09h-3.09zM748.94,1920.32h6.18v3.09h-6.18zM758.20,1920.32h6.18v3.09h-6.18zM776.73,1920.32h6.18v3.09h-6.18zM681.00,1923.41h3.09v3.09h-3.09zM687.18,1923.41h9.26v3.09h-9.26zM699.53,1923.41h3.09v3.09h-3.09zM708.79,1923.41h3.09v3.09h-3.09zM714.97,1923.41h9.26v3.09h-9.26zM727.32,1923.41h6.18v3.09h-6.18zM739.67,1923.41h3.09v3.09h-3.09zM748.94,1923.41h6.18v3.09h-6.18zM758.20,1923.41h9.26v3.09h-9.26zM770.55,1923.41h9.26v3.09h-9.26zM687.18,1926.50h9.26v3.09h-9.26zM714.97,1926.50h3.09v3.09h-3.09zM724.23,1926.50h3.09v3.09h-3.09zM733.50,1926.50h3.09v3.09h-3.09zM742.76,1926.50h3.09v3.09h-3.09zM752.02,1926.50h3.09v3.09h-3.09zM758.20,1926.50h6.18v3.09h-6.18zM773.64,1926.50h9.26v3.09h-9.26zM681.00,1929.58h3.09v3.09h-3.09zM687.18,1929.58h3.09v3.09h-3.09zM696.44,1929.58h9.26v3.09h-9.26zM721.14,1929.58h3.09v3.09h-3.09zM727.32,1929.58h3.09v3.09h-3.09zM745.85,1929.58h9.26v3.09h-9.26zM767.46,1929.58h15.44v3.09h-15.44zM681.00,1932.67h6.18v3.09h-6.18zM690.26,1932.67h3.09v3.09h-3.09zM696.44,1932.67h3.09v3.09h-3.09zM705.70,1932.67h3.09v3.09h-3.09zM711.88,1932.67h3.09v3.09h-3.09zM721.14,1932.67h6.18v3.09h-6.18zM730.41,1932.67h9.26v3.09h-9.26zM748.94,1932.67h6.18v3.09h-6.18zM761.29,1932.67h6.18v3.09h-6.18zM770.55,1932.67h3.09v3.09h-3.09zM779.82,1932.67h3.09v3.09h-3.09zM681.00,1935.76h6.18v3.09h-6.18zM693.35,1935.76h18.53v3.09h-18.53zM714.97,1935.76h21.62v3.09h-21.62zM752.02,1935.76h3.09v3.09h-3.09zM764.38,1935.76h3.09v3.09h-3.09zM779.82,1935.76h3.09v3.09h-3.09zM693.35,1938.85h6.18v3.09h-6.18zM708.79,1938.85h6.18v3.09h-6.18zM718.06,1938.85h6.18v3.09h-6.18zM727.32,1938.85h12.35v3.09h-12.35zM742.76,1938.85h3.09v3.09h-3.09zM748.94,1938.85h3.09v3.09h-3.09zM764.38,1938.85h3.09v3.09h-3.09zM773.64,1938.85h3.09v3.09h-3.09zM779.82,1938.85h3.09v3.09h-3.09zM681.00,1941.94h9.26v3.09h-9.26zM693.35,1941.94h9.26v3.09h-9.26zM705.70,1941.94h3.09v3.09h-3.09zM711.88,1941.94h6.18v3.09h-6.18zM724.23,1941.94h3.09v3.09h-3.09zM730.41,1941.94h3.09v3.09h-3.09zM745.85,1941.94h9.26v3.09h-9.26zM758.20,1941.94h6.18v3.09h-6.18zM773.64,1941.94h9.26v3.09h-9.26zM687.18,1945.02h6.18v3.09h-6.18zM696.44,1945.02h3.09v3.09h-3.09zM702.62,1945.02h12.35v3.09h-12.35zM718.06,1945.02h6.18v3.09h-6.18zM727.32,1945.02h3.09v3.09h-3.09zM739.67,1945.02h6.18v3.09h-6.18zM764.38,1945.02h3.09v3.09h-3.09zM770.55,1945.02h3.09v3.09h-3.09zM779.82,1945.02h3.09v3.09h-3.09zM681.00,1948.11h9.26v3.09h-9.26zM696.44,1948.11h6.18v3.09h-6.18zM705.70,1948.11h9.26v3.09h-9.26zM721.14,1948.11h3.09v3.09h-3.09zM727.32,1948.11h3.09v3.09h-3.09zM733.50,1948.11h3.09v3.09h-3.09zM742.76,1948.11h3.09v3.09h-3.09zM748.94,1948.11h24.70v3.09h-24.70zM776.73,1948.11h6.18v3.09h-6.18zM705.70,1951.20h21.62v3.09h-21.62zM736.58,1951.20h3.09v3.09h-3.09zM742.76,1951.20h15.44v3.09h-15.44zM767.46,1951.20h3.09v3.09h-3.09zM779.82,1951.20h3.09v3.09h-3.09zM681.00,1954.29h21.62v3.09h-21.62zM705.70,1954.29h15.44v3.09h-15.44zM727.32,1954.29h3.09v3.09h-3.09zM733.50,1954.29h3.09v3.09h-3.09zM739.67,1954.29h3.09v3.09h-3.09zM755.11,1954.29h3.09v3.09h-3.09zM761.29,1954.29h3.09v3.09h-3.09zM767.46,1954.29h6.18v3.09h-6.18zM779.82,1954.29h3.09v3.09h-3.09zM681.00,1957.38h3.09v3.09h-3.09zM699.53,1957.38h3.09v3.09h-3.09zM705.70,1957.38h3.09v3.09h-3.09zM711.88,1957.38h3.09v3.09h-3.09zM718.06,1957.38h15.44v3.09h-15.44zM739.67,1957.38h3.09v3.09h-3.09zM745.85,1957.38h3.09v3.09h-3.09zM755.11,1957.38h3.09v3.09h-3.09zM767.46,1957.38h6.18v3.09h-6.18zM776.73,1957.38h6.18v3.09h-6.18zM681.00,1960.46h3.09v3.09h-3.09zM687.18,1960.46h9.26v3.09h-9.26zM699.53,1960.46h3.09v3.09h-3.09zM708.79,1960.46h6.18v3.09h-6.18zM718.06,1960.46h3.09v3.09h-3.09zM724.23,1960.46h3.09v3.09h-3.09zM730.41,1960.46h12.35v3.09h-12.35zM745.85,1960.46h3.09v3.09h-3.09zM752.02,1960.46h18.53v3.09h-18.53zM681.00,1963.55h3.09v3.09h-3.09zM687.18,1963.55h9.26v3.09h-9.26zM699.53,1963.55h3.09v3.09h-3.09zM708.79,1963.55h3.09v3.09h-3.09zM714.97,1963.55h3.09v3.09h-3.09zM724.23,1963.55h3.09v3.09h-3.09zM730.41,1963.55h3.09v3.09h-3.09zM736.58,1963.55h6.18v3.09h-6.18zM745.85,1963.55h3.09v3.09h-3.09zM752.02,1963.55h9.26v3.09h-9.26zM764.38,1963.55h15.44v3.09h-15.44zM681.00,1966.64h3.09v3.09h-3.09zM687.18,1966.64h9.26v3.09h-9.26zM699.53,1966.64h3.09v3.09h-3.09zM705.70,1966.64h3.09v3.09h-3.09zM711.88,1966.64h3.09v3.09h-3.09zM718.06,1966.64h3.09v3.09h-3.09zM724.23,1966.64h6.18v3.09h-6.18zM733.50,1966.64h3.09v3.09h-3.09zM739.67,1966.64h6.18v3.09h-6.18zM755.11,1966.64h3.09v3.09h-3.09zM767.46,1966.64h6.18v3.09h-6.18zM776.73,1966.64h6.18v3.09h-6.18zM681.00,1969.73h3.09v3.09h-3.09zM699.53,1969.73h3.09v3.09h-3.09zM708.79,1969.73h3.09v3.09h-3.09zM718.06,1969.73h3.09v3.09h-3.09zM733.50,1969.73h3.09v3.09h-3.09zM739.67,1969.73h6.18v3.09h-6.18zM748.94,1969.73h12.35v3.09h-12.35zM770.55,1969.73h6.18v3.09h-6.18zM681.00,1972.82h21.62v3.09h-21.62zM708.79,1972.82h6.18v3.09h-6.18zM718.06,1972.82h6.18v3.09h-6.18zM727.32,1972.82h3.09v3.09h-3.09zM733.50,1972.82h3.09v3.09h-3.09zM755.11,1972.82h9.26v3.09h-9.26zM767.46,1972.82h9.26v3.09h-9.26zM779.82,1972.82h3.09v3.09h-3.09z" fill="#000" shape-rendering="crispEdges"/>

</svg>
</body></html>
